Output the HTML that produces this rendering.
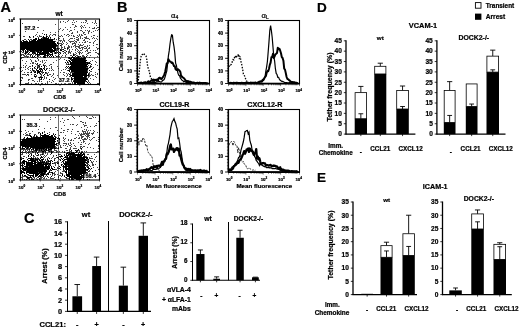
<!DOCTYPE html>
<html lang="en"><head><meta charset="utf-8"><title>Figure</title>
<style>
html,body{margin:0;padding:0;background:#fff;}
body{width:520px;height:328px;overflow:hidden;font-family:"Liberation Sans", Arial, Helvetica, sans-serif;}
svg{display:block;filter:blur(0.3px);}
text{stroke:#000;stroke-width:0.22px;}
</style></head><body>
<svg width="520" height="328" viewBox="0 0 520 328" font-family='"Liberation Sans", Arial, Helvetica, sans-serif' fill="#000">
<defs><filter id="sb" x="-5%" y="-5%" width="110%" height="110%"><feGaussianBlur stdDeviation="0.45"/></filter></defs>
<path d="M22 52.5h1M43 37.5h1M40 47.5h1M33 46.5h1M40 42.5h1M26 53.5h1M41 39.5h1M24 46.5h1M55 35.5h1M30 39.5h1M50 49.5h1M29 50.5h1M38 46.5h1M49 35.5h1M43 46.5h1M59 43.5h1M37 51.5h1M46 52.5h1M27 56.5h1M40 49.5h1M57 49.5h1M44 41.5h1M40 46.5h1M34 50.5h1M23 40.5h1M48 44.5h1M30 42.5h1M43 43.5h1M27 47.5h1M61 43.5h1M25 46.5h1M40 41.5h1M70 52.5h1M41 42.5h1M28 50.5h1M46 55.5h1M50 34.5h1M49 41.5h1M41 51.5h1M61 47.5h1M39 42.5h1M33 48.5h1M47 40.5h1M44 49.5h1M25 31.5h1M58 37.5h1M36 54.5h1M55 41.5h1M57 56.5h1M53 50.5h1M45 51.5h1M28 43.5h1M50 48.5h1M61 48.5h1M48 38.5h1M58 48.5h1M29 44.5h1M51 51.5h1M50 51.5h1M30 46.5h1M40 48.5h1M44 43.5h1M36 45.5h1M38 48.5h1M37 47.5h1M40 51.5h1M46 46.5h1M45 41.5h1M38 37.5h1M42 49.5h1M33 44.5h1M58 38.5h1M38 43.5h1M42 33.5h1M30 43.5h1M35 41.5h1M41 54.5h1M39 47.5h1M31 44.5h1M39 49.5h1M45 44.5h1M53 44.5h1M35 57.5h1M37 36.5h1M23 57.5h1M51 41.5h1M45 62.5h1M31 45.5h1M31 50.5h1M44 39.5h1M34 40.5h1M61 35.5h1M26 51.5h1M51 40.5h1M31 47.5h1M51 47.5h1M27 42.5h1M47 46.5h1M33 45.5h1M29 43.5h1M37 46.5h1M44 46.5h1M43 40.5h1M58 39.5h1M48 41.5h1M34 52.5h1M34 47.5h1M46 50.5h1M23 46.5h1M25 51.5h1M35 47.5h1M58 44.5h1M43 45.5h1M45 54.5h1M60 40.5h1M27 50.5h1M42 54.5h1M51 44.5h1M55 32.5h1M30 48.5h1M30 37.5h1M22 44.5h1M40 45.5h1M55 34.5h1M55 46.5h1M43 42.5h1M24 42.5h1M48 48.5h1M41 52.5h1M49 47.5h1M39 35.5h1M45 53.5h1M61 46.5h1M52 43.5h1M31 46.5h1M29 37.5h1M36 46.5h1M36 34.5h1M40 40.5h1M32 52.5h1M47 51.5h1M39 44.5h1M43 41.5h1M39 50.5h1M46 45.5h1M46 35.5h1M52 52.5h1M42 42.5h1M37 42.5h1M41 49.5h1M35 48.5h1M68 47.5h1M40 36.5h1M53 34.5h1M54 45.5h1M24 44.5h1M27 45.5h1M35 44.5h1M59 40.5h1M42 38.5h1M41 36.5h1M44 51.5h1M36 50.5h1M40 39.5h1M33 53.5h1M22 46.5h1M21 51.5h1M45 37.5h1M36 42.5h1M26 55.5h1M63 49.5h1M60 41.5h1M29 49.5h1M44 48.5h1M36 43.5h1M34 43.5h1M50 38.5h1M49 45.5h1M36 49.5h1M64 48.5h1M56 49.5h1M35 43.5h1M43 51.5h1M53 41.5h1M27 48.5h1M30 49.5h1M38 47.5h1M46 53.5h1M56 46.5h1M35 42.5h1M28 47.5h1M52 39.5h1M45 46.5h1M37 44.5h1M57 50.5h1M42 46.5h1M43 56.5h1M38 44.5h1M62 41.5h1M37 45.5h1M22 48.5h1M41 45.5h1M35 35.5h1M56 44.5h1M28 42.5h1M29 41.5h1M31 51.5h1M31 42.5h1M52 47.5h1M23 49.5h1M52 50.5h1M55 43.5h1M52 40.5h1M51 43.5h1M41 44.5h1M47 42.5h1M43 36.5h1M32 49.5h1M62 49.5h1M39 46.5h1M26 43.5h1M34 46.5h1M39 40.5h1M52 44.5h1M53 48.5h1M64 46.5h1M25 42.5h1M29 54.5h1M35 40.5h1M36 51.5h1M46 43.5h1M25 39.5h1M62 44.5h1M52 49.5h1M31 39.5h1M60 53.5h1M61 40.5h1M52 46.5h1M34 42.5h1M62 42.5h1M51 45.5h1M37 43.5h1M42 37.5h1M42 48.5h1M31 48.5h1M34 48.5h1M28 51.5h1M48 43.5h1M48 47.5h1M50 32.5h1M54 43.5h1M46 48.5h1M28 46.5h1M48 50.5h1M45 43.5h1M26 49.5h1M56 48.5h1M32 55.5h1M44 44.5h1M39 36.5h1M35 51.5h1M27 44.5h1M35 53.5h1M56 39.5h1M24 48.5h1M43 48.5h1M54 39.5h1M43 38.5h1M46 39.5h1M59 38.5h1M47 44.5h1M24 47.5h1M42 45.5h1M29 42.5h1M47 45.5h1M34 44.5h1M65 50.5h1M57 47.5h1M45 39.5h1M23 43.5h1M26 40.5h1M61 45.5h1M32 57.5h1M53 39.5h1M33 49.5h1M37 48.5h1M32 44.5h1M35 45.5h1M57 46.5h1M35 38.5h1M24 39.5h1M31 40.5h1M23 41.5h1M41 50.5h1M49 51.5h1M51 39.5h1M42 47.5h1M42 44.5h1M49 36.5h1M23 36.5h1M50 45.5h1M65 48.5h1M22 43.5h1M42 50.5h1M45 40.5h1M33 50.5h1M33 37.5h1M47 36.5h1M28 44.5h1M36 48.5h1M54 52.5h1M30 45.5h1M54 53.5h1M21 42.5h1M37 49.5h1M50 39.5h1M24 36.5h1M33 41.5h1M67 47.5h1M58 43.5h1M49 43.5h1M22 40.5h1M68 73.5h1M87 78.5h1M71 47.5h1M86 67.5h1M75 73.5h1M82 75.5h1M77 63.5h1M83 78.5h1M78 81.5h1M86 71.5h1M82 68.5h1M83 67.5h1M89 72.5h1M73 81.5h1M78 66.5h1M68 62.5h1M81 63.5h1M77 79.5h1M78 75.5h1M80 74.5h1M65 69.5h1M81 61.5h1M71 65.5h1M87 71.5h1M89 74.5h1M78 67.5h1M67 67.5h1M79 83.5h1M79 66.5h1M83 72.5h1M76 67.5h1M70 62.5h1M77 56.5h1M72 65.5h1M90 63.5h1M73 78.5h1M74 60.5h1M70 76.5h1M75 69.5h1M77 75.5h1M75 78.5h1M76 55.5h1M81 62.5h1M69 83.5h1M83 75.5h1M79 67.5h1M78 71.5h1M82 74.5h1M77 68.5h1M77 82.5h1M72 78.5h1M80 80.5h1M72 71.5h1M90 67.5h1M77 67.5h1M83 55.5h1M77 74.5h1M79 78.5h1M78 70.5h1M73 66.5h1M73 72.5h1M86 73.5h1M75 63.5h1M75 74.5h1M83 77.5h1M91 71.5h1M72 68.5h1M82 61.5h1M79 65.5h1M76 77.5h1M70 64.5h1M84 75.5h1M79 75.5h1M71 80.5h1M89 73.5h1M84 74.5h1M86 79.5h1M68 60.5h1M76 71.5h1M75 54.5h1M82 52.5h1M87 63.5h1M65 56.5h1M85 68.5h1M78 69.5h1M70 68.5h1M71 72.5h1M73 74.5h1M80 66.5h1M68 78.5h1M93 67.5h1M83 68.5h1M64 59.5h1M72 64.5h1M76 75.5h1M93 75.5h1M87 69.5h1M78 65.5h1M80 78.5h1M74 74.5h1M70 55.5h1M85 66.5h1M69 74.5h1M67 79.5h1M82 64.5h1M60 72.5h1M90 78.5h1M75 72.5h1M90 61.5h1M68 64.5h1M71 59.5h1M93 79.5h1M77 59.5h1M80 70.5h1M85 59.5h1M87 41.5h1M79 81.5h1M76 81.5h1M78 57.5h1M80 64.5h1M87 72.5h1M72 66.5h1M90 65.5h1M80 68.5h1M72 63.5h1M73 70.5h1M77 55.5h1M80 83.5h1M68 70.5h1M73 73.5h1M81 74.5h1M84 73.5h1M69 82.5h1M76 60.5h1M67 70.5h1M74 72.5h1M76 82.5h1M74 64.5h1M70 66.5h1M66 68.5h1M78 68.5h1M76 72.5h1M88 68.5h1M67 74.5h1M81 71.5h1M87 75.5h1M65 83.5h1M82 63.5h1M81 66.5h1M88 76.5h1M78 72.5h1M73 53.5h1M86 63.5h1M77 80.5h1M78 77.5h1M81 77.5h1M85 58.5h1M80 72.5h1M71 66.5h1M71 57.5h1M78 78.5h1M79 82.5h1M70 72.5h1M76 61.5h1M86 78.5h1M66 60.5h1M77 71.5h1M68 63.5h1M84 68.5h1M88 73.5h1M81 64.5h1M63 69.5h1M74 69.5h1M76 80.5h1M79 68.5h1M80 79.5h1M88 77.5h1M83 79.5h1M76 76.5h1M79 69.5h1M82 70.5h1M71 55.5h1M77 78.5h1M74 71.5h1M84 63.5h1M84 70.5h1M90 71.5h1M85 81.5h1M79 70.5h1M83 66.5h1M72 69.5h1M68 68.5h1M81 50.5h1M82 56.5h1M91 74.5h1M70 69.5h1M85 71.5h1M75 81.5h1M80 61.5h1M74 80.5h1M95 74.5h1M85 64.5h1M90 83.5h1M83 57.5h1M83 60.5h1M79 51.5h1M69 69.5h1M82 82.5h1M75 71.5h1M80 60.5h1M77 73.5h1M71 60.5h1M72 72.5h1M75 67.5h1M95 72.5h1M88 75.5h1M82 78.5h1M84 83.5h1M79 74.5h1M85 60.5h1M73 80.5h1M89 82.5h1M89 57.5h1M74 67.5h1M86 66.5h1M77 81.5h1M77 76.5h1M79 58.5h1M69 68.5h1M90 75.5h1M76 68.5h1M66 63.5h1M63 72.5h1M60 58.5h1M74 75.5h1M87 67.5h1M67 78.5h1M76 66.5h1M66 64.5h1M86 74.5h1M81 81.5h1M80 52.5h1M89 76.5h1M85 57.5h1M74 62.5h1M69 76.5h1M71 63.5h1M67 64.5h1M77 62.5h1M79 62.5h1M80 50.5h1M92 60.5h1M74 59.5h1M80 81.5h1M84 77.5h1M73 68.5h1M75 77.5h1M80 73.5h1M79 63.5h1M86 54.5h1M80 67.5h1M78 64.5h1M77 61.5h1M74 66.5h1M69 71.5h1M78 60.5h1M86 70.5h1M74 55.5h1M76 70.5h1M77 77.5h1M67 61.5h1M88 65.5h1M82 48.5h1M73 60.5h1M87 82.5h1M70 73.5h1M89 75.5h1M65 55.5h1M83 62.5h1M71 81.5h1M77 72.5h1M65 67.5h1M82 67.5h1M77 65.5h1M76 62.5h1M88 53.5h1M79 71.5h1M85 75.5h1M71 75.5h1M84 57.5h1M79 79.5h1M92 68.5h1M70 75.5h1M66 66.5h1M70 83.5h1M84 64.5h1M77 64.5h1M95 76.5h1M66 73.5h1M89 52.5h1M82 59.5h1M82 65.5h1M91 66.5h1M74 70.5h1M70 63.5h1M65 53.5h1M76 65.5h1M77 58.5h1M81 76.5h1M85 61.5h1M70 74.5h1M72 82.5h1M95 64.5h1M71 51.5h1M74 61.5h1M78 52.5h1M82 71.5h1M67 75.5h1M84 46.5h1M86 77.5h1M80 82.5h1M82 55.5h1M71 68.5h1M92 75.5h1M83 71.5h1M37 56.5h1M23 55.5h1M24 56.5h1M44 50.5h1M35 55.5h1M39 52.5h1M35 52.5h1M30 55.5h1M43 53.5h1M56 51.5h1M39 55.5h1M50 57.5h1M29 52.5h1M44 52.5h1M35 49.5h1M25 56.5h1M27 57.5h1M40 53.5h1M45 56.5h1M27 54.5h1M38 56.5h1M56 50.5h1M22 54.5h1M32 50.5h1M30 50.5h1M55 55.5h1M49 53.5h1M34 53.5h1M30 54.5h1M23 52.5h1M25 54.5h1M47 53.5h1M22 50.5h1M45 55.5h1M43 57.5h1M24 49.5h1M48 54.5h1M52 55.5h1M24 53.5h1M56 52.5h1M50 55.5h1M42 53.5h1M28 54.5h1M54 50.5h1M28 56.5h1M40 50.5h1M49 50.5h1M24 55.5h1M35 54.5h1M21 55.5h1M39 51.5h1M30 56.5h1M23 54.5h1M38 55.5h1M21 54.5h1M48 55.5h1M53 57.5h1M50 54.5h1M56 53.5h1M50 74.5h1M37 81.5h1M43 79.5h1M47 83.5h1M43 64.5h1M33 80.5h1M28 67.5h1M25 69.5h1M31 71.5h1M32 70.5h1M42 72.5h1M28 80.5h1M26 56.5h1M40 61.5h1M53 62.5h1M31 72.5h1M37 71.5h1M38 72.5h1M47 82.5h1M45 70.5h1M35 61.5h1M46 73.5h1M39 81.5h1M45 83.5h1M53 70.5h1M21 71.5h1M27 72.5h1M28 74.5h1M28 69.5h1M39 67.5h1M39 80.5h1M52 80.5h1M49 70.5h1M41 66.5h1M37 66.5h1M44 63.5h1M42 62.5h1M35 68.5h1M44 65.5h1M34 72.5h1M38 67.5h1M37 64.5h1M34 68.5h1M33 54.5h1M39 72.5h1M37 68.5h1M28 79.5h1M51 67.5h1M52 69.5h1M51 64.5h1M37 72.5h1M31 78.5h1M30 68.5h1M24 74.5h1M36 64.5h1M25 66.5h1M39 68.5h1M40 64.5h1M34 75.5h1M38 77.5h1M35 66.5h1M51 70.5h1M31 74.5h1M33 62.5h1M36 76.5h1M40 71.5h1M42 69.5h1M35 63.5h1M51 68.5h1M23 74.5h1M40 76.5h1M38 59.5h1M27 68.5h1M39 64.5h1M47 81.5h1M41 74.5h1M37 63.5h1M34 71.5h1M35 60.5h1M43 68.5h1M42 61.5h1M33 71.5h1M46 66.5h1M24 72.5h1M40 74.5h1M39 65.5h1M28 75.5h1M34 70.5h1M31 57.5h1M41 76.5h1M30 70.5h1M34 67.5h1M40 69.5h1M40 56.5h1M37 65.5h1M30 66.5h1M46 68.5h1M51 66.5h1M23 65.5h1M42 71.5h1M36 75.5h1M28 72.5h1M51 76.5h1M42 73.5h1M54 79.5h1M32 80.5h1M26 65.5h1M38 66.5h1M25 67.5h1M35 74.5h1M47 73.5h1M45 65.5h1M44 68.5h1M41 71.5h1M37 73.5h1M32 65.5h1M29 79.5h1M47 75.5h1M25 74.5h1M31 60.5h1M41 75.5h1M46 60.5h1M26 61.5h1M46 78.5h1M33 70.5h1M40 79.5h1M32 62.5h1M41 72.5h1M39 78.5h1M29 66.5h1M44 76.5h1M39 73.5h1M36 70.5h1M32 66.5h1M30 72.5h1M49 65.5h1M36 61.5h1M46 72.5h1M36 69.5h1M35 77.5h1M48 72.5h1M49 81.5h1M52 75.5h1M38 60.5h1M46 77.5h1M39 79.5h1M34 74.5h1M53 73.5h1M30 59.5h1M23 67.5h1M21 77.5h1M31 61.5h1M22 70.5h1M48 75.5h1M26 75.5h1M30 63.5h1M47 68.5h1M53 77.5h1M49 74.5h1M44 78.5h1M47 74.5h1M32 78.5h1M57 66.5h1M39 69.5h1M57 75.5h1M45 73.5h1M50 64.5h1M33 63.5h1M41 81.5h1M44 60.5h1M34 81.5h1M22 57.5h1M53 81.5h1M32 63.5h1M56 60.5h1M55 78.5h1M22 78.5h1M42 60.5h1M49 68.5h1M25 63.5h1M44 77.5h1M53 74.5h1M51 82.5h1M21 58.5h1M22 74.5h1M21 67.5h1M22 77.5h1M21 80.5h1M22 60.5h1M21 57.5h1M38 83.5h1M42 83.5h1M41 83.5h1M28 82.5h1M55 83.5h1M56 83.5h1M35 83.5h1M26 83.5h1M36 83.5h1M27 83.5h1M28 83.5h1M25 83.5h1M31 83.5h1M68 51.5h1M84 56.5h1M84 25.5h1M67 43.5h1M72 22.5h1M75 52.5h1M70 27.5h1M58 35.5h1M59 29.5h1M70 30.5h1M96 52.5h1M82 31.5h1M96 28.5h1M82 38.5h1M75 47.5h1M89 45.5h1M85 22.5h1M73 20.5h1M80 44.5h1M79 47.5h1M60 43.5h1M71 41.5h1M88 48.5h1M76 53.5h1M91 32.5h1M69 47.5h1M87 46.5h1M60 36.5h1M90 52.5h1M81 57.5h1M81 35.5h1M64 47.5h1M95 21.5h1M75 26.5h1M98 53.5h1M63 21.5h1M93 42.5h1M63 38.5h1M86 36.5h1M83 56.5h1M98 54.5h1M96 44.5h1M64 41.5h1M64 40.5h1M91 36.5h1M76 21.5h1M95 52.5h1M77 37.5h1M60 28.5h1M96 25.5h1M72 33.5h1M95 50.5h1M73 35.5h1M87 55.5h1M93 35.5h1M67 29.5h1M92 22.5h1M97 53.5h1M74 29.5h1M63 39.5h1M82 26.5h1M87 30.5h1M70 53.5h1M58 31.5h1M83 27.5h1M65 27.5h1M74 54.5h1M89 42.5h1M80 26.5h1M67 34.5h1M85 27.5h1M76 48.5h1M85 20.5h1M69 39.5h1M86 20.5h1M63 29.5h1M83 33.5h1M60 45.5h1M87 49.5h1M93 43.5h1M82 42.5h1M78 44.5h1M96 38.5h1M89 39.5h1M96 47.5h1M85 34.5h1M95 22.5h1M98 48.5h1M73 43.5h1M97 39.5h1M95 20.5h1M69 49.5h1M66 42.5h1M79 54.5h1M93 28.5h1M61 49.5h1M88 31.5h1M76 41.5h1M92 28.5h1M59 36.5h1M85 30.5h1M70 42.5h1M85 37.5h1M61 44.5h1M97 48.5h1M74 22.5h1M77 40.5h1M97 27.5h1M89 27.5h1M79 45.5h1M69 31.5h1M84 37.5h1M94 28.5h1M66 35.5h1M85 46.5h1M74 27.5h1M93 31.5h1M62 51.5h1M60 49.5h1M89 31.5h1M62 47.5h1M93 45.5h1M97 44.5h1M87 50.5h1M96 23.5h1M97 56.5h1M97 36.5h1M60 22.5h1M60 21.5h1M87 23.5h1M94 38.5h1M65 22.5h1M94 27.5h1M63 43.5h1M68 20.5h1M62 36.5h1M90 55.5h1M95 30.5h1M67 21.5h1M97 30.5h1M75 43.5h1M89 30.5h1M86 21.5h1M71 33.5h1M95 40.5h1M94 23.5h1M72 24.5h1M71 46.5h1M64 34.5h1M76 26.5h1M81 27.5h1M75 25.5h1M93 37.5h1M72 32.5h1M80 45.5h1M82 45.5h1M75 46.5h1M75 44.5h1M84 40.5h1M68 36.5h1M81 47.5h1M70 41.5h1M67 49.5h1M80 37.5h1M76 39.5h1M94 35.5h1M68 46.5h1M81 34.5h1M81 22.5h1M77 35.5h1M69 41.5h1M85 38.5h1M85 51.5h1M83 44.5h1M82 49.5h1M88 52.5h1M85 48.5h1M76 37.5h1M87 45.5h1M74 40.5h1M83 47.5h1M73 36.5h1M79 46.5h1M86 37.5h1M78 47.5h1M87 51.5h1M77 51.5h1M92 38.5h1M79 52.5h1M98 27.5h1M85 42.5h1M80 30.5h1M72 41.5h1M77 31.5h1M94 41.5h1M71 35.5h1M69 51.5h1M89 48.5h1M77 49.5h1M74 45.5h1M78 40.5h1M78 39.5h1M88 32.5h1M79 48.5h1M74 38.5h1M72 44.5h1M68 34.5h1M79 60.5h1M69 52.5h1M85 41.5h1M78 56.5h1M75 45.5h1M90 50.5h1M68 40.5h1M86 38.5h1M81 53.5h1M82 47.5h1M80 48.5h1M72 49.5h1M84 42.5h1M88 38.5h1M66 44.5h1M79 42.5h1M78 50.5h1M83 40.5h1M79 56.5h1M77 39.5h1M88 33.5h1M73 46.5h1M77 46.5h1M74 36.5h1M76 46.5h1M90 42.5h1M74 43.5h1M97 49.5h1M69 35.5h1M63 40.5h1M75 50.5h1M89 47.5h1M83 32.5h1M72 43.5h1M78 38.5h1M98 29.5h1M81 25.5h1M84 48.5h1M81 30.5h1M80 38.5h1M74 42.5h1M81 45.5h1M70 38.5h1M71 38.5h1M68 45.5h1M79 34.5h1M86 50.5h1M69 46.5h1M73 41.5h1M78 46.5h1M79 35.5h1M83 22.5h1M78 36.5h1M87 53.5h1M75 49.5h1M84 39.5h1M82 35.5h1M84 32.5h1M72 38.5h1M86 47.5h1M76 42.5h1M73 24.5h1M77 32.5h1M75 41.5h1M84 34.5h1M80 36.5h1M71 30.5h1M81 28.5h1M93 50.5h1M86 48.5h1M87 38.5h1M62 30.5h1M61 56.5h1M65 52.5h1M63 53.5h1M64 52.5h1M60 52.5h1M58 49.5h1M69 50.5h1M59 56.5h1M58 56.5h1M66 54.5h1M68 48.5h1M59 54.5h1M68 53.5h1M64 50.5h1M59 48.5h1M62 55.5h1M68 52.5h1M84 82.5h1M87 70.5h1M66 76.5h1M97 73.5h1M82 66.5h1M95 61.5h1M94 58.5h1M64 83.5h1M69 60.5h1M80 65.5h1M64 72.5h1M72 83.5h1M85 63.5h1M96 62.5h1M59 59.5h1M61 81.5h1M79 80.5h1M68 58.5h1M88 62.5h1M83 63.5h1M97 83.5h1M89 67.5h1M80 76.5h1M69 64.5h1M88 80.5h1M61 83.5h1M98 69.5h1M97 74.5h1M77 57.5h1M79 57.5h1M59 79.5h1M68 83.5h1M63 79.5h1M98 83.5h1M96 77.5h1M69 58.5h1M68 57.5h1M78 83.5h1M97 65.5h1M73 63.5h1M88 83.5h1M64 75.5h1M61 70.5h1M67 80.5h1M88 81.5h1M63 74.5h1M58 68.5h1M25 27.5h1M38 27.5h1M22 23.5h1M37 27.5h1M38 20.5h1M54 34.5h1M43 30.5h1M37 32.5h1M55 24.5h1M52 35.5h1" stroke="#000" stroke-width="1" fill="none" opacity="0.72" filter="url(#sb)"/>
<path d="M41 41.5h1M47 43.5h1M47 42.5h1M30 42.5h1M31 45.5h1M45 46.5h1M45 44.5h1M47 45.5h1M36 45.5h1M30 44.5h1M32 47.5h1M31 47.5h1M35 47.5h1M39 45.5h1M38 50.5h1M50 50.5h1M46 44.5h1M50 48.5h1M28 43.5h1M29 46.5h1M43 45.5h1M22 44.5h1M25 45.5h1M38 41.5h1M37 44.5h1M50 39.5h1M41 51.5h1M42 49.5h1M38 48.5h1M27 46.5h1M23 47.5h1M27 47.5h1M42 48.5h1M35 43.5h1M22 46.5h1M48 44.5h1M33 43.5h1M48 46.5h1M39 48.5h1M46 41.5h1M41 49.5h1M46 49.5h1M25 44.5h1M36 44.5h1M38 45.5h1M47 48.5h1M32 44.5h1M41 42.5h1M31 41.5h1M30 45.5h1M29 47.5h1M43 46.5h1M34 47.5h1M52 46.5h1M41 47.5h1M41 43.5h1M42 44.5h1M28 45.5h1M34 48.5h1M27 48.5h1M36 46.5h1M26 44.5h1M51 43.5h1M27 45.5h1M43 48.5h1M31 46.5h1M49 45.5h1M40 43.5h1M26 47.5h1M47 46.5h1M48 45.5h1M39 49.5h1M28 48.5h1M28 47.5h1M43 43.5h1M31 43.5h1M35 46.5h1M26 46.5h1M49 47.5h1M35 38.5h1M40 46.5h1M30 41.5h1M42 45.5h1M26 43.5h1M34 45.5h1M26 42.5h1M53 46.5h1M37 41.5h1M45 45.5h1M35 44.5h1M42 43.5h1M43 53.5h1M33 44.5h1M51 44.5h1M27 44.5h1M50 45.5h1M21 43.5h1M46 46.5h1M47 44.5h1M27 42.5h1M25 47.5h1M30 49.5h1M34 46.5h1M25 46.5h1M51 46.5h1M34 44.5h1M51 48.5h1M37 48.5h1M49 44.5h1M36 50.5h1M42 46.5h1M38 47.5h1M35 45.5h1M46 47.5h1M32 45.5h1M47 47.5h1M24 47.5h1M40 45.5h1M52 45.5h1M29 44.5h1M40 42.5h1M43 49.5h1M30 48.5h1M25 48.5h1M21 44.5h1M49 50.5h1M46 42.5h1M38 46.5h1M37 45.5h1M39 43.5h1M48 48.5h1M40 48.5h1M24 43.5h1M32 43.5h1M45 41.5h1M23 44.5h1M44 42.5h1M48 43.5h1M50 49.5h1M24 42.5h1M29 43.5h1M24 44.5h1M37 46.5h1M23 40.5h1M39 40.5h1M25 43.5h1M24 45.5h1M39 46.5h1M21 46.5h1M23 45.5h1M44 47.5h1M43 44.5h1M45 43.5h1M45 49.5h1M40 41.5h1M48 40.5h1M51 47.5h1M48 51.5h1M43 41.5h1M39 47.5h1M52 44.5h1M32 48.5h1M37 49.5h1M28 42.5h1M50 46.5h1M34 49.5h1M26 45.5h1M41 46.5h1M33 41.5h1M24 48.5h1M51 50.5h1M39 42.5h1M36 41.5h1M48 50.5h1M44 44.5h1M44 43.5h1M37 43.5h1M40 44.5h1M43 39.5h1M23 43.5h1M41 40.5h1M51 45.5h1M45 47.5h1M39 44.5h1M33 46.5h1M34 41.5h1M38 44.5h1M40 40.5h1M49 41.5h1M28 44.5h1M41 44.5h1M45 39.5h1M27 43.5h1M52 41.5h1M23 46.5h1M36 43.5h1M44 50.5h1M31 48.5h1M22 47.5h1M28 39.5h1M30 46.5h1M22 48.5h1M50 40.5h1M42 42.5h1M36 49.5h1M40 39.5h1M32 46.5h1M25 51.5h1M24 46.5h1M47 41.5h1M44 46.5h1M23 48.5h1M47 50.5h1M44 45.5h1M50 47.5h1M33 42.5h1M23 49.5h1M52 42.5h1M36 48.5h1M44 39.5h1M40 47.5h1M22 45.5h1M50 42.5h1M35 49.5h1M37 47.5h1M46 51.5h1M42 41.5h1M33 45.5h1M47 40.5h1M43 42.5h1M23 42.5h1M49 43.5h1M43 47.5h1M39 41.5h1M31 44.5h1M53 47.5h1M36 47.5h1M33 47.5h1M37 51.5h1M35 41.5h1M32 49.5h1M32 42.5h1M23 41.5h1M41 45.5h1M32 40.5h1M29 45.5h1M22 49.5h1M49 42.5h1M49 48.5h1M46 43.5h1M28 46.5h1M29 42.5h1M37 40.5h1M21 42.5h1M38 49.5h1M46 40.5h1M33 49.5h1M33 50.5h1M35 42.5h1M45 51.5h1M48 42.5h1M31 49.5h1M25 41.5h1M29 48.5h1M34 42.5h1M30 43.5h1M40 50.5h1M26 41.5h1M42 40.5h1M46 45.5h1M49 51.5h1M50 44.5h1M38 38.5h1M40 51.5h1M30 47.5h1M44 49.5h1M31 42.5h1M42 47.5h1M44 41.5h1M54 41.5h1M27 41.5h1M44 48.5h1M43 37.5h1M38 42.5h1M26 48.5h1M35 50.5h1M21 45.5h1M25 42.5h1M46 48.5h1M50 43.5h1M21 47.5h1M47 49.5h1M48 39.5h1M21 49.5h1M49 40.5h1M49 46.5h1M48 38.5h1M38 43.5h1M49 49.5h1M34 43.5h1M36 39.5h1M26 49.5h1M54 46.5h1M52 43.5h1M48 49.5h1M48 47.5h1M45 42.5h1M33 48.5h1M34 40.5h1M50 41.5h1M54 49.5h1M51 42.5h1M53 41.5h1M35 40.5h1M52 47.5h1M45 40.5h1M23 50.5h1M37 42.5h1M51 41.5h1M41 48.5h1M52 49.5h1M42 50.5h1M39 39.5h1M33 40.5h1M55 50.5h1M31 51.5h1M43 38.5h1M24 41.5h1M36 42.5h1M51 49.5h1M55 44.5h1M40 49.5h1M37 54.5h1M47 39.5h1M41 39.5h1M37 50.5h1M21 48.5h1M35 48.5h1M48 41.5h1M29 41.5h1M54 43.5h1M22 42.5h1M45 50.5h1M29 49.5h1M35 39.5h1M32 41.5h1M45 48.5h1M43 40.5h1M29 40.5h1M54 42.5h1M51 39.5h1M22 43.5h1M27 49.5h1M34 39.5h1M46 39.5h1M50 52.5h1M21 41.5h1M53 45.5h1M45 52.5h1M24 49.5h1M53 48.5h1M53 44.5h1M28 49.5h1M51 40.5h1M44 40.5h1M39 50.5h1M51 51.5h1M52 50.5h1M38 40.5h1M47 38.5h1M48 37.5h1M47 55.5h1M44 52.5h1M57 43.5h1M39 52.5h1M44 38.5h1M38 39.5h1M33 36.5h1M43 51.5h1M50 51.5h1M56 45.5h1M53 50.5h1M42 53.5h1M41 38.5h1M53 42.5h1M36 38.5h1M29 36.5h1M54 38.5h1M54 44.5h1M49 39.5h1M50 55.5h1M50 37.5h1M44 37.5h1M49 56.5h1M47 53.5h1M54 45.5h1M44 34.5h1M52 53.5h1M55 45.5h1M52 39.5h1M54 48.5h1M45 38.5h1M52 40.5h1M33 39.5h1M43 36.5h1M41 50.5h1M57 45.5h1M49 54.5h1M55 49.5h1M46 34.5h1M60 45.5h1M40 52.5h1M46 36.5h1M55 43.5h1M50 54.5h1M46 38.5h1M55 48.5h1M33 52.5h1M54 50.5h1M32 50.5h1M44 53.5h1M42 39.5h1M57 42.5h1M54 47.5h1M46 37.5h1M43 50.5h1M46 50.5h1M43 54.5h1M42 54.5h1M32 51.5h1M55 46.5h1M53 43.5h1M36 51.5h1M63 49.5h1M57 52.5h1M59 52.5h1M37 53.5h1M63 51.5h1M37 58.5h1M38 51.5h1M31 50.5h1M34 50.5h1M44 56.5h1M37 55.5h1M44 51.5h1M43 52.5h1M46 53.5h1M33 51.5h1M30 51.5h1M51 52.5h1M34 52.5h1M25 52.5h1M53 51.5h1M55 53.5h1M33 57.5h1M28 53.5h1M58 55.5h1M32 53.5h1M52 54.5h1M57 48.5h1M40 54.5h1M51 54.5h1M40 53.5h1M53 56.5h1M45 53.5h1M37 56.5h1M55 47.5h1M47 52.5h1M34 51.5h1M29 50.5h1M34 53.5h1M38 52.5h1M44 57.5h1M37 52.5h1M47 54.5h1M30 50.5h1M42 52.5h1M35 53.5h1M52 51.5h1M58 51.5h1M44 55.5h1M27 50.5h1M25 53.5h1M61 50.5h1M27 52.5h1M46 52.5h1M34 56.5h1M41 53.5h1M32 52.5h1M39 53.5h1M45 54.5h1M29 52.5h1M54 51.5h1M36 54.5h1M48 53.5h1M38 54.5h1M41 54.5h1M43 56.5h1M32 56.5h1M47 51.5h1M55 52.5h1M48 52.5h1M44 54.5h1M67 48.5h1M56 56.5h1M66 51.5h1M51 56.5h1M26 52.5h1M31 54.5h1M27 51.5h1M58 53.5h1M45 55.5h1M60 49.5h1M52 55.5h1M60 50.5h1M47 56.5h1M23 51.5h1M25 50.5h1M48 55.5h1M60 53.5h1M30 55.5h1M45 57.5h1M81 70.5h1M82 69.5h1M77 75.5h1M80 71.5h1M75 66.5h1M79 81.5h1M78 58.5h1M80 82.5h1M78 77.5h1M77 65.5h1M72 66.5h1M76 65.5h1M79 82.5h1M79 65.5h1M81 80.5h1M79 77.5h1M81 81.5h1M78 83.5h1M82 79.5h1M86 66.5h1M80 67.5h1M79 80.5h1M80 72.5h1M83 79.5h1M83 66.5h1M76 76.5h1M80 68.5h1M76 69.5h1M77 68.5h1M81 76.5h1M77 63.5h1M79 79.5h1M74 62.5h1M85 63.5h1M73 65.5h1M81 71.5h1M79 68.5h1M80 77.5h1M74 60.5h1M76 62.5h1M77 62.5h1M78 66.5h1M79 66.5h1M78 72.5h1M81 78.5h1M82 76.5h1M77 66.5h1M82 75.5h1M79 67.5h1M76 60.5h1M80 69.5h1M83 65.5h1M77 58.5h1M74 75.5h1M82 68.5h1M76 73.5h1M79 72.5h1M74 82.5h1M81 65.5h1M81 68.5h1M81 59.5h1M84 73.5h1M75 65.5h1M82 60.5h1M86 73.5h1M71 67.5h1M77 76.5h1M75 79.5h1M80 65.5h1M79 70.5h1M76 63.5h1M80 76.5h1M82 83.5h1M82 72.5h1M80 66.5h1M77 81.5h1M78 70.5h1M70 67.5h1M75 68.5h1M79 71.5h1M80 81.5h1M71 63.5h1M73 64.5h1M73 59.5h1M76 67.5h1M82 77.5h1M75 59.5h1M71 66.5h1M83 78.5h1M81 75.5h1M78 73.5h1M73 75.5h1M75 74.5h1M71 69.5h1M83 81.5h1M76 70.5h1M84 77.5h1M75 75.5h1M82 59.5h1M73 81.5h1M82 80.5h1M77 71.5h1M79 74.5h1M75 80.5h1M80 74.5h1M80 61.5h1M75 73.5h1M77 80.5h1M76 61.5h1M76 71.5h1M84 60.5h1M82 70.5h1M73 73.5h1M80 75.5h1M83 73.5h1M81 83.5h1M77 74.5h1M77 78.5h1M90 66.5h1M83 60.5h1M73 62.5h1M72 65.5h1M80 60.5h1M84 72.5h1M78 71.5h1M79 63.5h1M77 70.5h1M78 78.5h1M85 68.5h1M84 75.5h1M84 65.5h1M75 76.5h1M86 78.5h1M81 79.5h1M77 60.5h1M80 83.5h1M76 77.5h1M79 75.5h1M81 72.5h1M75 77.5h1M83 69.5h1M74 67.5h1M71 79.5h1M72 69.5h1M75 67.5h1M80 80.5h1M85 73.5h1M83 70.5h1M75 83.5h1M82 62.5h1M85 64.5h1M82 73.5h1M77 69.5h1M82 74.5h1M78 80.5h1M83 74.5h1M75 78.5h1M79 73.5h1M71 62.5h1M75 71.5h1M78 69.5h1M84 63.5h1M83 59.5h1M79 62.5h1M77 79.5h1M80 64.5h1M78 76.5h1M77 59.5h1M74 72.5h1M73 61.5h1M82 66.5h1M80 62.5h1M79 59.5h1M78 65.5h1M77 72.5h1M76 79.5h1M84 83.5h1M78 81.5h1M81 69.5h1M85 65.5h1M86 62.5h1M83 83.5h1M83 75.5h1M78 59.5h1M73 69.5h1M76 66.5h1M78 75.5h1M71 68.5h1M80 63.5h1M72 62.5h1M77 77.5h1M74 66.5h1M76 64.5h1M77 73.5h1M78 64.5h1M72 67.5h1M81 74.5h1M81 77.5h1M78 68.5h1M87 79.5h1M80 79.5h1M81 62.5h1M88 75.5h1M74 81.5h1M84 76.5h1M81 63.5h1M78 67.5h1M79 78.5h1M80 73.5h1M72 64.5h1M80 59.5h1M80 70.5h1M75 62.5h1M77 82.5h1M83 80.5h1M78 63.5h1M78 74.5h1M84 79.5h1M83 72.5h1M85 78.5h1M81 73.5h1M73 68.5h1M74 79.5h1M80 78.5h1M79 76.5h1M75 70.5h1M72 71.5h1M82 78.5h1M79 83.5h1M74 77.5h1M78 60.5h1M74 65.5h1M76 74.5h1M81 66.5h1M73 58.5h1M72 61.5h1M84 74.5h1M81 64.5h1M82 81.5h1M73 66.5h1M82 65.5h1M78 79.5h1M75 69.5h1M74 83.5h1M75 81.5h1M74 71.5h1M73 67.5h1M82 64.5h1M85 71.5h1M83 77.5h1M77 57.5h1M65 62.5h1M72 75.5h1M71 57.5h1M84 82.5h1M82 71.5h1M84 71.5h1M74 70.5h1M87 69.5h1M85 76.5h1M76 72.5h1M82 61.5h1M86 72.5h1M72 79.5h1M81 67.5h1M73 71.5h1M72 70.5h1M86 74.5h1M87 82.5h1M70 66.5h1M76 75.5h1M84 61.5h1M74 63.5h1M74 69.5h1M77 67.5h1M75 72.5h1M83 71.5h1M86 60.5h1M78 82.5h1M82 63.5h1M73 70.5h1M76 78.5h1M85 69.5h1M84 78.5h1M73 57.5h1M86 69.5h1M75 82.5h1M83 63.5h1M84 64.5h1M84 58.5h1M77 64.5h1M86 68.5h1M87 75.5h1M75 63.5h1M74 78.5h1M69 60.5h1M87 66.5h1M71 70.5h1M79 69.5h1M83 82.5h1M82 82.5h1M86 79.5h1M82 67.5h1M83 67.5h1M85 60.5h1M74 61.5h1M84 68.5h1M86 75.5h1M79 61.5h1M78 62.5h1M82 58.5h1M75 64.5h1M71 60.5h1M75 60.5h1M74 80.5h1M75 61.5h1M81 82.5h1M85 66.5h1M91 69.5h1M85 79.5h1M72 59.5h1M74 57.5h1M72 68.5h1M85 74.5h1M68 66.5h1M86 56.5h1M85 67.5h1M79 60.5h1M84 67.5h1M71 64.5h1M71 78.5h1M76 58.5h1M76 68.5h1M67 62.5h1M72 73.5h1M86 81.5h1M84 69.5h1M69 67.5h1M85 75.5h1M77 83.5h1M83 68.5h1M88 74.5h1M83 64.5h1M84 70.5h1M76 59.5h1M74 73.5h1M76 80.5h1M73 60.5h1M83 62.5h1M86 76.5h1M84 81.5h1M66 60.5h1M74 64.5h1M68 64.5h1M74 59.5h1M86 71.5h1M85 58.5h1M81 60.5h1M79 64.5h1M85 77.5h1M89 63.5h1M87 68.5h1M75 58.5h1M86 70.5h1M87 72.5h1M70 62.5h1M76 81.5h1M81 61.5h1M72 76.5h1M70 61.5h1M84 57.5h1M85 72.5h1M86 64.5h1M70 59.5h1M74 76.5h1M76 82.5h1M86 65.5h1M71 71.5h1M72 63.5h1M85 62.5h1M83 61.5h1M79 58.5h1M87 62.5h1M81 58.5h1M89 67.5h1M84 80.5h1M71 77.5h1M80 58.5h1M70 75.5h1M73 76.5h1M74 74.5h1M77 61.5h1M69 74.5h1M73 74.5h1M84 59.5h1M74 68.5h1M74 58.5h1M88 63.5h1M78 61.5h1M70 64.5h1M91 64.5h1M73 63.5h1M85 80.5h1M76 57.5h1M69 58.5h1M70 69.5h1M71 58.5h1M84 62.5h1M85 70.5h1M69 61.5h1M73 54.5h1M71 75.5h1M72 60.5h1M71 65.5h1M85 61.5h1M89 70.5h1M72 74.5h1M70 68.5h1M69 70.5h1M78 56.5h1M89 62.5h1M87 64.5h1M69 57.5h1M70 63.5h1M73 55.5h1M84 66.5h1M80 56.5h1M75 56.5h1M66 66.5h1M68 70.5h1M78 57.5h1M79 53.5h1M67 67.5h1M72 56.5h1M70 58.5h1M87 63.5h1M83 58.5h1M72 57.5h1M69 71.5h1M43 72.5h1M39 71.5h1M37 67.5h1M41 78.5h1M41 68.5h1M38 65.5h1M37 72.5h1M40 71.5h1M38 70.5h1M43 65.5h1M35 72.5h1M40 73.5h1M39 54.5h1M35 71.5h1M37 73.5h1M34 67.5h1M37 63.5h1M37 71.5h1M49 79.5h1M34 72.5h1M41 79.5h1M40 70.5h1M37 68.5h1M35 76.5h1M44 66.5h1M43 68.5h1M32 69.5h1M38 72.5h1M32 65.5h1M39 66.5h1M41 77.5h1M46 69.5h1M47 75.5h1M27 74.5h1M38 71.5h1M44 74.5h1M36 69.5h1M42 70.5h1M32 68.5h1M42 77.5h1M39 72.5h1M34 76.5h1M41 66.5h1M39 69.5h1M35 74.5h1M37 70.5h1M44 69.5h1M45 70.5h1M33 70.5h1M41 69.5h1M40 77.5h1M45 72.5h1M39 77.5h1M43 75.5h1M40 68.5h1M31 72.5h1M44 67.5h1" stroke="#000" stroke-width="1" fill="none" opacity="1" filter="url(#sb)"/>
<rect x="20.50" y="19.00" width="79.00" height="65.50" fill="none" stroke="#000" stroke-width="1.1"/>
<line x1="58.5" y1="19" x2="58.5" y2="84.5" stroke="#000" stroke-width="0.7" opacity="0.8"/>
<line x1="20.5" y1="57.5" x2="99.5" y2="57.5" stroke="#000" stroke-width="0.7" opacity="0.8"/>
<text x="59" y="16.4" font-size="6.5" text-anchor="middle" font-weight="bold">wt</text>
<rect x="23.70" y="25.30" width="12.00" height="5.20" fill="#fff"/>
<text x="24.5" y="29.7" font-size="5.5" text-anchor="start" font-weight="bold" stroke-width="0.4">57.2</text>
<rect x="58.00" y="78.00" width="12.00" height="5.20" fill="#fff"/>
<text x="58.8" y="82.4" font-size="5.5" text-anchor="start" font-weight="bold" stroke-width="0.4">37.2</text>
<text x="21.8" y="92.8" font-size="4.4" text-anchor="middle" font-weight="bold" stroke-width="0.35">10<tspan dy="-1.6" font-size="3.08">0</tspan></text>
<text x="40.8" y="92.8" font-size="4.4" text-anchor="middle" font-weight="bold" stroke-width="0.35">10<tspan dy="-1.6" font-size="3.08">1</tspan></text>
<text x="59.8" y="92.8" font-size="4.4" text-anchor="middle" font-weight="bold" stroke-width="0.35">10<tspan dy="-1.6" font-size="3.08">2</tspan></text>
<text x="78.8" y="92.8" font-size="4.4" text-anchor="middle" font-weight="bold" stroke-width="0.35">10<tspan dy="-1.6" font-size="3.08">3</tspan></text>
<text x="97.8" y="92.8" font-size="4.4" text-anchor="middle" font-weight="bold" stroke-width="0.35">10<tspan dy="-1.6" font-size="3.08">4</tspan></text>
<text x="11.5" y="87.0" font-size="4.4" text-anchor="middle" font-weight="bold" stroke-width="0.35">10<tspan dy="-1.6" font-size="3.08">0</tspan></text>
<line x1="19.0" y1="84.5" x2="20.5" y2="84.5" stroke="#000" stroke-width="0.6"/>
<line x1="20.5" y1="84.5" x2="20.5" y2="86.0" stroke="#000" stroke-width="0.6"/>
<text x="11.5" y="70.625" font-size="4.4" text-anchor="middle" font-weight="bold" stroke-width="0.35">10<tspan dy="-1.6" font-size="3.08">1</tspan></text>
<line x1="19.0" y1="68.125" x2="20.5" y2="68.125" stroke="#000" stroke-width="0.6"/>
<line x1="40.25" y1="84.5" x2="40.25" y2="86.0" stroke="#000" stroke-width="0.6"/>
<text x="11.5" y="54.25" font-size="4.4" text-anchor="middle" font-weight="bold" stroke-width="0.35">10<tspan dy="-1.6" font-size="3.08">2</tspan></text>
<line x1="19.0" y1="51.75" x2="20.5" y2="51.75" stroke="#000" stroke-width="0.6"/>
<line x1="60.0" y1="84.5" x2="60.0" y2="86.0" stroke="#000" stroke-width="0.6"/>
<text x="11.5" y="37.875" font-size="4.4" text-anchor="middle" font-weight="bold" stroke-width="0.35">10<tspan dy="-1.6" font-size="3.08">3</tspan></text>
<line x1="19.0" y1="35.375" x2="20.5" y2="35.375" stroke="#000" stroke-width="0.6"/>
<line x1="79.75" y1="84.5" x2="79.75" y2="86.0" stroke="#000" stroke-width="0.6"/>
<text x="11.5" y="21.5" font-size="4.4" text-anchor="middle" font-weight="bold" stroke-width="0.35">10<tspan dy="-1.6" font-size="3.08">4</tspan></text>
<line x1="19.0" y1="19.0" x2="20.5" y2="19.0" stroke="#000" stroke-width="0.6"/>
<line x1="99.5" y1="84.5" x2="99.5" y2="86.0" stroke="#000" stroke-width="0.6"/>
<text x="59.7" y="98.7" font-size="6.2" text-anchor="middle" font-weight="bold">CD8</text>
<text x="7" y="57.75" font-size="6" text-anchor="middle" font-weight="bold" transform="rotate(-90 7 57.75)">CD4</text>
<path d="M45 150.5h1M39 142.5h1M38 151.5h1M37 152.5h1M28 144.5h1M25 149.5h1M32 149.5h1M26 149.5h1M23 149.5h1M48 147.5h1M35 144.5h1M27 138.5h1M37 146.5h1M55 136.5h1M50 137.5h1M36 149.5h1M42 141.5h1M30 146.5h1M32 141.5h1M34 136.5h1M31 139.5h1M44 131.5h1M24 145.5h1M44 135.5h1M26 153.5h1M39 138.5h1M52 143.5h1M58 137.5h1M45 142.5h1M55 139.5h1M38 154.5h1M54 141.5h1M28 131.5h1M38 142.5h1M65 138.5h1M47 140.5h1M49 138.5h1M36 138.5h1M35 134.5h1M48 144.5h1M58 142.5h1M29 141.5h1M27 150.5h1M43 139.5h1M45 151.5h1M55 144.5h1M59 140.5h1M23 138.5h1M33 140.5h1M48 141.5h1M33 142.5h1M43 150.5h1M37 143.5h1M45 146.5h1M43 141.5h1M39 139.5h1M34 144.5h1M26 146.5h1M35 142.5h1M42 140.5h1M35 149.5h1M46 141.5h1M44 142.5h1M24 149.5h1M38 143.5h1M50 143.5h1M45 141.5h1M34 150.5h1M22 142.5h1M39 150.5h1M40 146.5h1M37 147.5h1M38 140.5h1M42 152.5h1M54 139.5h1M49 144.5h1M61 147.5h1M32 144.5h1M50 149.5h1M41 150.5h1M56 137.5h1M47 145.5h1M46 143.5h1M28 142.5h1M38 145.5h1M36 139.5h1M32 140.5h1M30 148.5h1M21 144.5h1M39 132.5h1M40 137.5h1M37 136.5h1M42 144.5h1M30 151.5h1M27 135.5h1M43 142.5h1M42 149.5h1M44 137.5h1M43 154.5h1M24 137.5h1M24 138.5h1M29 134.5h1M60 145.5h1M45 134.5h1M25 143.5h1M47 139.5h1M46 140.5h1M40 144.5h1M38 139.5h1M41 138.5h1M52 137.5h1M46 148.5h1M31 145.5h1M54 135.5h1M64 143.5h1M25 145.5h1M52 147.5h1M53 138.5h1M35 153.5h1M45 139.5h1M29 145.5h1M27 148.5h1M23 141.5h1M25 141.5h1M39 141.5h1M44 128.5h1M46 136.5h1M43 137.5h1M33 144.5h1M24 141.5h1M46 142.5h1M38 133.5h1M29 150.5h1M34 137.5h1M57 140.5h1M50 145.5h1M36 141.5h1M33 136.5h1M33 143.5h1M22 143.5h1M53 148.5h1M33 146.5h1M53 140.5h1M49 139.5h1M48 145.5h1M25 139.5h1M42 145.5h1M41 144.5h1M46 149.5h1M33 138.5h1M27 142.5h1M26 135.5h1M40 147.5h1M31 141.5h1M35 138.5h1M40 141.5h1M54 149.5h1M49 132.5h1M32 152.5h1M51 151.5h1M32 131.5h1M26 141.5h1M44 136.5h1M44 145.5h1M49 146.5h1M40 145.5h1M50 142.5h1M71 155.5h1M43 143.5h1M65 135.5h1M54 143.5h1M45 137.5h1M44 151.5h1M40 148.5h1M36 142.5h1M56 144.5h1M49 134.5h1M59 143.5h1M21 131.5h1M58 143.5h1M25 133.5h1M26 139.5h1M28 146.5h1M37 141.5h1M51 143.5h1M42 136.5h1M42 135.5h1M30 141.5h1M41 142.5h1M31 146.5h1M38 132.5h1M59 142.5h1M28 148.5h1M33 150.5h1M32 147.5h1M47 136.5h1M27 139.5h1M22 147.5h1M29 148.5h1M41 141.5h1M60 146.5h1M45 140.5h1M34 134.5h1M26 134.5h1M21 148.5h1M59 144.5h1M25 140.5h1M33 147.5h1M28 135.5h1M33 139.5h1M36 144.5h1M35 148.5h1M54 142.5h1M33 141.5h1M27 134.5h1M30 142.5h1M37 142.5h1M33 137.5h1M40 149.5h1M33 148.5h1M26 138.5h1M45 148.5h1M30 140.5h1M25 135.5h1M63 140.5h1M26 132.5h1M44 132.5h1M49 141.5h1M40 135.5h1M26 142.5h1M64 141.5h1M41 140.5h1M54 140.5h1M38 146.5h1M30 143.5h1M46 137.5h1M39 140.5h1M51 148.5h1M51 144.5h1M38 137.5h1M30 139.5h1M44 143.5h1M22 141.5h1M25 144.5h1M35 139.5h1M48 151.5h1M41 135.5h1M57 143.5h1M57 148.5h1M48 140.5h1M40 138.5h1M36 140.5h1M28 143.5h1M41 148.5h1M25 142.5h1M52 144.5h1M36 145.5h1M30 145.5h1M23 139.5h1M50 141.5h1M47 148.5h1M34 140.5h1M44 149.5h1M37 137.5h1M44 141.5h1M53 133.5h1M47 143.5h1M52 152.5h1M49 143.5h1M31 137.5h1M42 137.5h1M37 140.5h1M48 143.5h1M49 145.5h1M36 143.5h1M38 141.5h1M47 146.5h1M48 135.5h1M25 147.5h1M36 135.5h1M40 133.5h1M34 138.5h1M43 147.5h1M41 147.5h1M40 139.5h1M44 144.5h1M45 138.5h1M27 141.5h1M38 148.5h1M34 142.5h1M23 134.5h1M50 140.5h1M46 144.5h1M31 151.5h1M42 142.5h1M22 146.5h1M56 145.5h1M27 146.5h1M42 150.5h1M29 149.5h1M42 139.5h1M59 141.5h1M53 139.5h1M39 147.5h1M32 137.5h1M26 145.5h1M50 144.5h1M30 133.5h1M34 148.5h1M43 145.5h1M70 140.5h1M51 142.5h1M57 141.5h1M22 151.5h1M52 135.5h1M53 143.5h1M30 144.5h1M43 140.5h1M36 146.5h1M22 144.5h1M58 154.5h1M48 146.5h1M41 145.5h1M29 139.5h1M28 140.5h1M47 138.5h1M43 146.5h1M38 147.5h1M34 143.5h1M32 146.5h1M32 145.5h1M32 142.5h1M50 139.5h1M34 151.5h1M42 138.5h1M22 148.5h1M48 138.5h1M29 133.5h1M54 150.5h1M42 146.5h1M21 139.5h1M29 146.5h1M84 163.5h1M66 166.5h1M71 171.5h1M74 174.5h1M76 162.5h1M72 158.5h1M91 156.5h1M71 159.5h1M73 168.5h1M73 170.5h1M92 162.5h1M78 165.5h1M69 163.5h1M83 154.5h1M73 166.5h1M80 170.5h1M67 168.5h1M71 160.5h1M87 166.5h1M76 161.5h1M77 164.5h1M79 151.5h1M83 173.5h1M71 164.5h1M68 144.5h1M75 165.5h1M83 172.5h1M84 159.5h1M71 158.5h1M68 175.5h1M61 173.5h1M92 165.5h1M75 157.5h1M91 158.5h1M80 176.5h1M86 165.5h1M81 165.5h1M91 161.5h1M82 167.5h1M74 163.5h1M79 176.5h1M68 171.5h1M73 159.5h1M84 155.5h1M68 162.5h1M83 178.5h1M86 173.5h1M77 166.5h1M73 174.5h1M82 172.5h1M72 159.5h1M72 164.5h1M69 174.5h1M67 178.5h1M75 159.5h1M77 163.5h1M73 177.5h1M79 161.5h1M83 169.5h1M66 164.5h1M75 172.5h1M69 155.5h1M71 156.5h1M74 159.5h1M75 162.5h1M74 170.5h1M88 164.5h1M83 157.5h1M62 171.5h1M79 158.5h1M81 176.5h1M67 169.5h1M87 164.5h1M82 155.5h1M88 166.5h1M66 167.5h1M73 172.5h1M70 168.5h1M70 166.5h1M66 162.5h1M76 167.5h1M64 170.5h1M83 164.5h1M81 154.5h1M58 157.5h1M78 172.5h1M95 164.5h1M73 157.5h1M86 166.5h1M77 178.5h1M67 166.5h1M62 166.5h1M77 171.5h1M77 151.5h1M70 163.5h1M87 158.5h1M71 161.5h1M82 173.5h1M80 169.5h1M80 158.5h1M78 169.5h1M85 171.5h1M84 153.5h1M69 152.5h1M80 177.5h1M76 175.5h1M74 167.5h1M87 175.5h1M77 174.5h1M85 143.5h1M69 170.5h1M72 177.5h1M74 169.5h1M68 161.5h1M78 155.5h1M69 178.5h1M76 150.5h1M76 157.5h1M80 172.5h1M81 162.5h1M73 154.5h1M76 176.5h1M75 178.5h1M82 151.5h1M78 167.5h1M69 171.5h1M90 166.5h1M85 178.5h1M77 169.5h1M81 171.5h1M70 169.5h1M77 167.5h1M68 178.5h1M79 173.5h1M76 165.5h1M73 148.5h1M75 167.5h1M82 176.5h1M64 175.5h1M70 176.5h1M72 152.5h1M61 162.5h1M90 147.5h1M75 175.5h1M86 172.5h1M74 145.5h1M76 172.5h1M75 176.5h1M63 160.5h1M68 165.5h1M73 155.5h1M78 170.5h1M78 175.5h1M66 169.5h1M67 164.5h1M69 169.5h1M63 171.5h1M67 174.5h1M84 154.5h1M80 166.5h1M68 157.5h1M78 160.5h1M70 160.5h1M68 155.5h1M93 165.5h1M81 163.5h1M78 168.5h1M77 165.5h1M74 173.5h1M83 170.5h1M81 146.5h1M87 177.5h1M63 167.5h1M81 166.5h1M78 162.5h1M83 175.5h1M80 164.5h1M61 176.5h1M81 178.5h1M69 156.5h1M62 174.5h1M85 162.5h1M77 156.5h1M80 162.5h1M84 161.5h1M74 171.5h1M74 177.5h1M67 155.5h1M77 150.5h1M78 166.5h1M69 168.5h1M72 167.5h1M66 172.5h1M79 150.5h1M83 167.5h1M76 159.5h1M65 165.5h1M75 155.5h1M84 171.5h1M66 161.5h1M82 154.5h1M86 174.5h1M87 172.5h1M81 160.5h1M75 174.5h1M76 152.5h1M68 170.5h1M83 153.5h1M78 164.5h1M88 174.5h1M70 155.5h1M79 168.5h1M69 172.5h1M72 157.5h1M76 158.5h1M74 175.5h1M70 174.5h1M73 153.5h1M66 168.5h1M87 162.5h1M66 171.5h1M83 179.5h1M81 161.5h1M73 162.5h1M84 176.5h1M83 163.5h1M76 163.5h1M79 177.5h1M75 177.5h1M57 162.5h1M92 158.5h1M80 168.5h1M76 171.5h1M75 169.5h1M71 157.5h1M71 165.5h1M82 170.5h1M77 160.5h1M82 163.5h1M83 141.5h1M73 164.5h1M80 171.5h1M71 170.5h1M67 165.5h1M89 173.5h1M72 166.5h1M72 154.5h1M70 171.5h1M68 152.5h1M74 160.5h1M60 172.5h1M76 174.5h1M71 168.5h1M57 170.5h1M65 168.5h1M59 175.5h1M65 177.5h1M86 170.5h1M73 161.5h1M78 163.5h1M77 162.5h1M69 160.5h1M72 163.5h1M73 158.5h1M63 158.5h1M74 156.5h1M58 163.5h1M88 144.5h1M84 168.5h1M86 163.5h1M64 155.5h1M63 163.5h1M84 151.5h1M75 166.5h1M72 176.5h1M74 165.5h1M87 163.5h1M84 164.5h1M65 157.5h1M82 171.5h1M89 179.5h1M93 175.5h1M75 173.5h1M73 176.5h1M73 165.5h1M84 173.5h1M73 178.5h1M77 173.5h1M63 170.5h1M74 148.5h1M63 168.5h1M76 151.5h1M84 175.5h1M81 168.5h1M71 162.5h1M75 160.5h1M84 170.5h1M84 158.5h1M74 166.5h1M71 166.5h1M85 175.5h1M80 173.5h1M64 171.5h1M88 160.5h1M72 178.5h1M68 167.5h1M82 165.5h1M67 176.5h1M84 167.5h1M78 177.5h1M88 169.5h1M78 161.5h1M84 166.5h1M79 169.5h1M58 168.5h1M63 165.5h1M76 170.5h1M79 172.5h1M65 172.5h1M92 163.5h1M80 178.5h1M66 158.5h1M81 149.5h1M71 173.5h1M69 161.5h1M60 175.5h1M81 172.5h1M77 168.5h1M75 146.5h1M81 151.5h1M89 170.5h1M63 161.5h1M76 160.5h1M66 163.5h1M68 173.5h1M77 177.5h1M81 167.5h1M85 156.5h1M66 175.5h1M74 158.5h1M84 177.5h1M87 160.5h1M72 161.5h1M72 172.5h1M70 142.5h1M76 155.5h1M74 176.5h1M89 171.5h1M76 164.5h1M60 157.5h1M67 159.5h1M65 167.5h1M79 163.5h1M64 167.5h1M29 160.5h1M33 160.5h1M34 168.5h1M39 167.5h1M47 161.5h1M33 166.5h1M43 159.5h1M43 156.5h1M30 172.5h1M36 158.5h1M38 167.5h1M48 168.5h1M41 176.5h1M33 177.5h1M39 165.5h1M47 174.5h1M39 162.5h1M41 160.5h1M24 160.5h1M38 176.5h1M31 163.5h1M39 163.5h1M42 153.5h1M34 170.5h1M31 161.5h1M45 159.5h1M39 160.5h1M40 154.5h1M30 159.5h1M38 164.5h1M44 157.5h1M31 172.5h1M40 160.5h1M37 163.5h1M48 166.5h1M35 161.5h1M34 169.5h1M28 156.5h1M29 166.5h1M39 172.5h1M30 156.5h1M40 173.5h1M28 153.5h1M26 173.5h1M33 169.5h1M41 170.5h1M40 177.5h1M30 166.5h1M39 171.5h1M32 163.5h1M32 178.5h1M44 171.5h1M35 176.5h1M42 170.5h1M40 157.5h1M31 166.5h1M37 169.5h1M50 162.5h1M37 158.5h1M25 168.5h1M32 162.5h1M22 163.5h1M22 154.5h1M41 167.5h1M40 175.5h1M30 175.5h1M30 164.5h1M34 164.5h1M45 170.5h1M43 163.5h1M58 147.5h1M50 174.5h1M34 158.5h1M46 165.5h1M38 159.5h1M43 168.5h1M30 165.5h1M41 171.5h1M32 172.5h1M42 167.5h1M26 170.5h1M23 171.5h1M55 162.5h1M43 153.5h1M33 159.5h1M36 167.5h1M29 177.5h1M29 171.5h1M40 169.5h1M37 172.5h1M47 158.5h1M50 170.5h1M38 172.5h1M34 172.5h1M30 167.5h1M38 163.5h1M48 172.5h1M50 172.5h1M31 164.5h1M36 176.5h1M31 153.5h1M35 170.5h1M56 157.5h1M44 168.5h1M36 172.5h1M21 171.5h1M42 172.5h1M21 162.5h1M49 170.5h1M43 164.5h1M35 171.5h1M46 166.5h1M40 155.5h1M24 169.5h1M26 163.5h1M47 169.5h1M36 164.5h1M27 176.5h1M43 171.5h1M40 166.5h1M47 162.5h1M23 162.5h1M52 172.5h1M47 164.5h1M22 166.5h1M50 177.5h1M43 175.5h1M23 170.5h1M42 163.5h1M42 168.5h1M37 161.5h1M40 170.5h1M46 155.5h1M47 163.5h1M45 165.5h1M33 157.5h1M46 163.5h1M31 160.5h1M27 162.5h1M41 157.5h1M43 169.5h1M29 170.5h1M40 158.5h1M57 168.5h1M37 162.5h1M35 160.5h1M35 151.5h1M31 159.5h1M44 150.5h1M55 171.5h1M35 159.5h1M44 172.5h1M48 164.5h1M28 163.5h1M34 167.5h1M46 164.5h1M49 158.5h1M57 161.5h1M38 177.5h1M44 177.5h1M25 167.5h1M27 165.5h1M28 169.5h1M37 170.5h1M45 171.5h1M40 165.5h1M24 172.5h1M52 168.5h1M29 165.5h1M41 163.5h1M25 169.5h1M35 163.5h1M34 159.5h1M34 161.5h1M44 161.5h1M22 158.5h1M36 173.5h1M34 156.5h1M42 174.5h1M35 162.5h1M53 163.5h1M53 156.5h1M27 166.5h1M35 172.5h1M44 163.5h1M33 170.5h1M37 157.5h1M28 161.5h1M33 176.5h1M37 168.5h1M36 155.5h1M42 164.5h1M32 173.5h1M36 160.5h1M44 169.5h1M40 164.5h1M43 176.5h1M30 171.5h1M21 168.5h1M26 165.5h1M31 162.5h1M27 152.5h1M31 165.5h1M38 169.5h1M46 169.5h1M41 178.5h1M29 162.5h1M52 169.5h1M45 173.5h1M41 173.5h1M32 165.5h1M43 161.5h1M40 178.5h1M41 177.5h1M35 166.5h1M33 171.5h1M42 177.5h1M32 168.5h1M34 160.5h1M22 178.5h1M25 166.5h1M42 151.5h1M31 150.5h1M53 151.5h1M28 152.5h1M50 146.5h1M38 152.5h1M28 149.5h1M23 148.5h1M45 147.5h1M57 151.5h1M39 148.5h1M51 152.5h1M38 149.5h1M21 152.5h1M37 150.5h1M25 151.5h1M22 152.5h1M43 149.5h1M24 146.5h1M44 147.5h1M50 150.5h1M31 147.5h1M33 152.5h1M56 150.5h1M39 151.5h1M50 147.5h1M51 145.5h1M52 151.5h1M24 152.5h1M55 150.5h1M56 147.5h1M22 149.5h1M48 148.5h1M28 151.5h1M49 149.5h1M54 147.5h1M55 148.5h1M41 149.5h1M35 145.5h1M57 145.5h1M25 152.5h1M44 146.5h1M42 147.5h1M39 145.5h1M36 147.5h1M45 152.5h1M35 146.5h1M54 145.5h1M37 148.5h1M41 146.5h1M51 146.5h1M31 149.5h1M50 151.5h1M25 150.5h1M26 151.5h1M26 147.5h1M29 151.5h1M55 147.5h1M45 149.5h1M35 152.5h1M23 152.5h1M40 151.5h1M24 148.5h1M27 147.5h1M35 147.5h1M38 150.5h1M47 150.5h1M49 148.5h1M48 149.5h1M28 147.5h1M39 149.5h1M36 148.5h1M41 151.5h1M33 151.5h1M29 152.5h1M23 150.5h1M46 146.5h1M49 150.5h1M56 152.5h1M45 145.5h1M36 151.5h1M43 152.5h1M53 145.5h1M21 149.5h1M55 146.5h1M27 149.5h1M32 148.5h1M46 147.5h1M51 150.5h1M56 151.5h1M43 148.5h1M56 148.5h1M34 146.5h1M40 150.5h1M41 154.5h1M55 164.5h1M31 175.5h1M55 169.5h1M58 177.5h1M56 162.5h1M54 159.5h1M29 164.5h1M28 174.5h1M35 158.5h1M33 158.5h1M22 171.5h1M45 153.5h1M30 153.5h1M47 160.5h1M27 177.5h1M54 172.5h1M49 165.5h1M42 173.5h1M24 156.5h1M45 176.5h1M38 155.5h1M47 168.5h1M23 169.5h1M45 162.5h1M30 176.5h1M54 162.5h1M54 175.5h1M28 164.5h1M28 166.5h1M44 166.5h1M36 162.5h1M28 160.5h1M35 154.5h1M54 160.5h1M57 174.5h1M45 163.5h1M23 158.5h1M34 162.5h1M25 175.5h1M31 169.5h1M55 158.5h1M21 154.5h1M53 178.5h1M42 157.5h1M45 174.5h1M50 164.5h1M39 179.5h1M46 178.5h1M52 157.5h1M45 160.5h1M54 173.5h1M43 158.5h1M48 162.5h1M45 156.5h1M32 176.5h1M45 169.5h1M51 158.5h1M54 163.5h1M55 165.5h1M41 161.5h1M40 163.5h1M23 160.5h1M54 158.5h1M25 176.5h1M35 157.5h1M55 174.5h1M22 161.5h1M55 163.5h1M46 170.5h1M29 163.5h1M46 175.5h1M34 177.5h1M39 166.5h1M43 170.5h1M37 175.5h1M38 161.5h1M31 154.5h1M43 172.5h1M50 154.5h1M29 178.5h1M26 177.5h1M29 154.5h1M41 164.5h1M47 153.5h1M35 164.5h1M48 177.5h1M28 175.5h1M51 170.5h1M26 167.5h1M26 157.5h1M39 176.5h1M52 174.5h1M48 173.5h1M32 159.5h1M47 154.5h1M52 175.5h1M53 173.5h1M53 155.5h1M26 166.5h1M53 166.5h1M44 155.5h1M52 163.5h1M57 167.5h1M40 172.5h1M23 165.5h1M48 157.5h1M33 156.5h1M58 162.5h1M56 169.5h1M24 176.5h1M22 174.5h1M50 160.5h1M27 171.5h1M54 174.5h1M22 177.5h1M21 157.5h1M23 156.5h1M23 176.5h1M21 163.5h1M22 176.5h1M22 167.5h1M22 153.5h1M21 158.5h1M22 168.5h1M21 177.5h1M22 165.5h1M40 179.5h1M22 179.5h1M36 178.5h1M54 177.5h1M50 178.5h1M39 178.5h1M43 178.5h1M51 178.5h1M37 179.5h1M34 178.5h1M32 179.5h1M52 178.5h1M31 178.5h1M26 179.5h1M37 177.5h1M24 179.5h1M44 178.5h1M27 178.5h1M55 179.5h1M90 118.5h1M96 123.5h1M81 142.5h1M93 117.5h1M75 148.5h1M87 117.5h1M81 135.5h1M80 148.5h1M72 129.5h1M73 117.5h1M68 139.5h1M85 123.5h1M93 130.5h1M87 138.5h1M61 128.5h1M71 140.5h1M98 151.5h1M82 122.5h1M80 121.5h1M71 139.5h1M73 143.5h1M87 127.5h1M65 143.5h1M81 121.5h1M64 120.5h1M82 130.5h1M60 121.5h1M60 132.5h1M66 143.5h1M79 116.5h1M90 126.5h1M66 144.5h1M71 146.5h1M73 140.5h1M71 131.5h1M96 125.5h1M80 144.5h1M64 130.5h1M72 116.5h1M98 145.5h1M78 149.5h1M67 131.5h1M98 141.5h1M80 147.5h1M90 140.5h1M78 135.5h1M84 134.5h1M67 129.5h1M98 139.5h1M62 118.5h1M59 135.5h1M74 138.5h1M64 125.5h1M83 146.5h1M98 146.5h1M63 130.5h1M63 145.5h1M78 142.5h1M63 137.5h1M74 118.5h1M81 127.5h1M79 137.5h1M68 119.5h1M78 150.5h1M91 118.5h1M94 131.5h1M98 148.5h1M70 124.5h1M63 132.5h1M97 151.5h1M70 149.5h1M92 116.5h1M76 148.5h1M83 122.5h1M86 116.5h1M98 121.5h1M96 140.5h1M73 124.5h1M68 129.5h1M88 134.5h1M63 122.5h1M68 140.5h1M91 139.5h1M92 133.5h1M82 147.5h1M71 133.5h1M97 132.5h1M95 117.5h1M85 122.5h1M89 143.5h1M84 146.5h1M72 124.5h1M75 134.5h1M89 118.5h1M61 132.5h1M93 133.5h1M69 145.5h1M93 148.5h1M67 119.5h1M63 138.5h1M85 133.5h1M58 138.5h1M64 139.5h1M94 126.5h1M86 151.5h1M86 139.5h1M85 139.5h1M81 134.5h1M84 139.5h1M86 133.5h1M87 134.5h1M89 132.5h1M79 133.5h1M85 131.5h1M85 138.5h1M84 138.5h1M80 134.5h1M83 131.5h1M85 132.5h1M89 133.5h1M88 136.5h1M88 133.5h1M87 136.5h1M89 137.5h1M83 134.5h1M81 136.5h1M83 139.5h1M86 130.5h1M83 136.5h1M89 135.5h1M82 137.5h1M83 133.5h1M83 132.5h1M88 135.5h1M89 139.5h1M81 137.5h1M86 134.5h1M87 133.5h1M80 135.5h1M81 138.5h1M84 131.5h1M87 137.5h1M84 133.5h1M82 134.5h1M81 133.5h1M87 132.5h1M82 136.5h1M84 129.5h1M84 125.5h1M98 137.5h1M85 135.5h1M76 137.5h1M81 144.5h1M91 133.5h1M86 136.5h1M93 137.5h1M75 138.5h1M84 141.5h1M78 131.5h1M76 125.5h1M87 135.5h1M77 131.5h1M92 138.5h1M87 147.5h1M79 138.5h1M93 132.5h1M82 131.5h1M80 140.5h1M94 137.5h1M82 139.5h1M84 126.5h1M86 129.5h1M83 142.5h1M87 131.5h1M92 134.5h1M83 140.5h1M90 130.5h1M83 124.5h1M88 130.5h1M78 138.5h1M80 146.5h1M95 125.5h1M85 125.5h1M86 125.5h1M77 124.5h1M70 148.5h1M70 143.5h1M66 150.5h1M67 150.5h1M68 143.5h1M69 149.5h1M66 148.5h1M70 151.5h1M63 143.5h1M65 148.5h1M67 146.5h1M59 151.5h1M70 147.5h1M64 151.5h1M65 145.5h1M60 147.5h1M71 151.5h1M70 145.5h1M62 151.5h1M69 150.5h1M69 151.5h1M71 144.5h1M60 159.5h1M68 163.5h1M89 158.5h1M84 157.5h1M71 172.5h1M60 160.5h1M62 164.5h1M94 159.5h1M72 165.5h1M60 178.5h1M95 170.5h1M62 175.5h1M83 177.5h1M76 173.5h1M69 167.5h1M64 154.5h1M97 173.5h1M85 177.5h1M66 156.5h1M60 154.5h1M87 159.5h1M98 169.5h1M61 158.5h1M96 152.5h1M85 176.5h1M93 164.5h1M89 157.5h1M95 157.5h1M90 169.5h1M66 178.5h1M58 179.5h1M60 173.5h1M83 159.5h1M62 173.5h1M82 157.5h1M96 156.5h1M81 155.5h1M64 166.5h1M69 177.5h1M80 153.5h1M93 167.5h1M68 168.5h1M90 158.5h1M58 176.5h1M87 154.5h1M72 155.5h1M94 154.5h1M86 156.5h1M85 161.5h1M96 161.5h1M86 160.5h1M69 158.5h1M59 159.5h1M59 166.5h1M64 160.5h1M82 158.5h1M65 159.5h1M59 154.5h1M97 167.5h1M86 159.5h1M71 153.5h1M79 179.5h1M86 162.5h1M91 162.5h1M98 175.5h1M71 175.5h1M79 174.5h1M82 177.5h1M66 165.5h1M85 169.5h1M70 153.5h1M88 154.5h1M60 169.5h1M68 166.5h1M75 158.5h1M93 161.5h1M68 153.5h1M92 164.5h1M39 119.5h1M26 123.5h1M22 119.5h1M39 126.5h1M25 130.5h1M24 119.5h1M57 130.5h1M55 117.5h1M47 121.5h1M50 128.5h1M29 123.5h1M38 129.5h1M56 127.5h1M55 127.5h1M27 124.5h1M50 117.5h1M50 119.5h1" stroke="#000" stroke-width="1" fill="none" opacity="0.72" filter="url(#sb)"/>
<path d="M44 142.5h1M34 142.5h1M49 145.5h1M33 142.5h1M31 140.5h1M29 144.5h1M42 142.5h1M52 145.5h1M35 148.5h1M30 144.5h1M51 138.5h1M51 139.5h1M37 144.5h1M41 137.5h1M32 141.5h1M35 143.5h1M39 141.5h1M39 140.5h1M48 142.5h1M50 141.5h1M44 144.5h1M51 140.5h1M51 141.5h1M53 146.5h1M25 144.5h1M51 142.5h1M47 142.5h1M27 143.5h1M35 139.5h1M48 140.5h1M31 145.5h1M32 147.5h1M32 142.5h1M52 141.5h1M34 143.5h1M32 144.5h1M38 144.5h1M50 146.5h1M29 143.5h1M33 141.5h1M33 144.5h1M44 145.5h1M45 140.5h1M42 140.5h1M54 148.5h1M31 144.5h1M32 138.5h1M51 143.5h1M36 139.5h1M36 142.5h1M51 145.5h1M42 139.5h1M53 145.5h1M44 140.5h1M38 139.5h1M51 146.5h1M25 145.5h1M44 139.5h1M45 134.5h1M41 141.5h1M34 139.5h1M44 146.5h1M47 145.5h1M33 143.5h1M40 145.5h1M28 141.5h1M47 136.5h1M34 141.5h1M48 141.5h1M50 139.5h1M37 141.5h1M51 152.5h1M49 144.5h1M35 140.5h1M29 142.5h1M47 146.5h1M48 147.5h1M45 141.5h1M36 145.5h1M46 142.5h1M46 145.5h1M49 142.5h1M28 143.5h1M24 143.5h1M50 137.5h1M44 141.5h1M33 145.5h1M31 143.5h1M40 141.5h1M34 145.5h1M27 142.5h1M37 142.5h1M24 144.5h1M36 144.5h1M48 137.5h1M22 143.5h1M36 137.5h1M48 138.5h1M45 145.5h1M45 143.5h1M27 141.5h1M26 145.5h1M55 137.5h1M43 146.5h1M30 141.5h1M41 147.5h1M36 141.5h1M47 143.5h1M48 145.5h1M25 141.5h1M39 142.5h1M45 142.5h1M33 147.5h1M42 145.5h1M22 140.5h1M51 137.5h1M34 144.5h1M42 144.5h1M43 148.5h1M48 144.5h1M42 146.5h1M49 139.5h1M52 138.5h1M44 147.5h1M30 139.5h1M50 136.5h1M29 139.5h1M30 136.5h1M40 143.5h1M29 138.5h1M45 147.5h1M25 142.5h1M29 145.5h1M39 144.5h1M41 135.5h1M26 138.5h1M46 141.5h1M47 135.5h1M36 147.5h1M49 149.5h1M52 146.5h1M25 143.5h1M29 140.5h1M46 140.5h1M48 143.5h1M31 147.5h1M49 141.5h1M56 144.5h1M47 141.5h1M50 144.5h1M51 147.5h1M49 140.5h1M42 143.5h1M41 140.5h1M23 142.5h1M43 144.5h1M55 148.5h1M39 138.5h1M25 146.5h1M25 140.5h1M44 143.5h1M33 140.5h1M42 135.5h1M43 142.5h1M45 146.5h1M30 146.5h1M53 141.5h1M26 143.5h1M38 142.5h1M43 140.5h1M37 143.5h1M38 147.5h1M23 144.5h1M37 140.5h1M38 140.5h1M49 143.5h1M38 143.5h1M51 144.5h1M41 143.5h1M43 141.5h1M31 141.5h1M36 143.5h1M54 145.5h1M43 147.5h1M37 137.5h1M46 144.5h1M33 148.5h1M37 138.5h1M38 141.5h1M35 144.5h1M31 146.5h1M29 141.5h1M30 140.5h1M53 137.5h1M40 142.5h1M38 145.5h1M43 143.5h1M28 146.5h1M26 146.5h1M33 146.5h1M32 139.5h1M27 139.5h1M35 149.5h1M39 143.5h1M26 140.5h1M40 137.5h1M40 139.5h1M28 144.5h1M35 141.5h1M28 139.5h1M24 140.5h1M49 136.5h1M50 140.5h1M52 139.5h1M35 137.5h1M39 145.5h1M27 147.5h1M32 140.5h1M32 143.5h1M36 148.5h1M23 139.5h1M45 151.5h1M50 142.5h1M52 140.5h1M47 144.5h1M43 138.5h1M50 147.5h1M54 139.5h1M52 142.5h1M22 141.5h1M42 141.5h1M27 140.5h1M49 134.5h1M46 146.5h1M49 137.5h1M30 138.5h1M52 143.5h1M26 142.5h1M25 147.5h1M26 144.5h1M49 146.5h1M47 137.5h1M43 139.5h1M45 144.5h1M48 139.5h1M54 142.5h1M36 140.5h1M31 136.5h1M40 144.5h1M40 140.5h1M46 149.5h1M54 147.5h1M22 144.5h1M23 148.5h1M35 142.5h1M53 139.5h1M39 148.5h1M39 149.5h1M34 138.5h1M46 148.5h1M43 151.5h1M46 143.5h1M31 142.5h1M39 137.5h1M35 147.5h1M27 148.5h1M41 145.5h1M28 138.5h1M22 142.5h1M28 140.5h1M32 146.5h1M50 143.5h1M38 138.5h1M53 142.5h1M49 138.5h1M41 142.5h1M24 142.5h1M34 146.5h1M22 139.5h1M46 138.5h1M45 138.5h1M44 138.5h1M28 145.5h1M53 143.5h1M26 141.5h1M47 140.5h1M27 144.5h1M55 144.5h1M24 137.5h1M54 146.5h1M36 146.5h1M40 138.5h1M21 144.5h1M50 148.5h1M53 147.5h1M29 146.5h1M52 144.5h1M22 147.5h1M50 149.5h1M36 136.5h1M39 139.5h1M48 136.5h1M30 147.5h1M21 143.5h1M53 140.5h1M33 137.5h1M46 136.5h1M27 137.5h1M23 145.5h1M26 139.5h1M25 139.5h1M28 142.5h1M23 141.5h1M42 136.5h1M41 149.5h1M44 148.5h1M46 139.5h1M30 142.5h1M37 139.5h1M50 138.5h1M30 143.5h1M40 148.5h1M38 146.5h1M55 139.5h1M51 153.5h1M35 138.5h1M52 147.5h1M30 145.5h1M53 138.5h1M40 134.5h1M53 144.5h1M32 145.5h1M52 137.5h1M37 148.5h1M49 147.5h1M22 145.5h1M48 146.5h1M24 141.5h1M33 139.5h1M42 147.5h1M31 139.5h1M41 139.5h1M41 146.5h1M37 145.5h1M34 137.5h1M50 145.5h1M31 138.5h1M30 148.5h1M23 146.5h1M23 140.5h1M42 133.5h1M26 148.5h1M47 147.5h1M55 141.5h1M40 136.5h1M52 136.5h1M54 140.5h1M55 134.5h1M35 145.5h1M29 149.5h1M21 141.5h1M51 148.5h1M21 142.5h1M51 135.5h1M47 138.5h1M38 148.5h1M24 146.5h1M27 145.5h1M54 136.5h1M41 144.5h1M37 147.5h1M51 151.5h1M21 145.5h1M24 148.5h1M44 135.5h1M54 143.5h1M42 132.5h1M42 138.5h1M35 146.5h1M41 148.5h1M39 147.5h1M29 135.5h1M40 147.5h1M34 135.5h1M47 139.5h1M39 146.5h1M45 139.5h1M45 135.5h1M27 146.5h1M46 137.5h1M52 148.5h1M34 140.5h1M54 141.5h1M51 136.5h1M37 146.5h1M36 138.5h1M40 146.5h1M23 143.5h1M42 137.5h1M46 147.5h1M43 145.5h1M44 137.5h1M36 151.5h1M47 133.5h1M24 139.5h1M51 149.5h1M54 144.5h1M33 149.5h1M48 148.5h1M45 137.5h1M54 138.5h1M30 135.5h1M43 137.5h1M31 149.5h1M49 151.5h1M41 138.5h1M27 138.5h1M24 145.5h1M45 149.5h1M22 146.5h1M38 137.5h1M34 147.5h1M31 137.5h1M45 136.5h1M22 148.5h1M46 150.5h1M59 139.5h1M48 150.5h1M57 138.5h1M43 135.5h1M48 135.5h1M44 136.5h1M42 148.5h1M44 134.5h1M59 138.5h1M52 135.5h1M39 150.5h1M36 149.5h1M43 136.5h1M37 149.5h1M41 150.5h1M28 147.5h1M58 148.5h1M57 140.5h1M59 142.5h1M40 133.5h1M33 138.5h1M53 134.5h1M35 150.5h1M42 151.5h1M44 150.5h1M56 143.5h1M32 151.5h1M46 135.5h1M55 138.5h1M43 149.5h1M48 149.5h1M75 168.5h1M75 164.5h1M80 166.5h1M79 164.5h1M67 161.5h1M84 157.5h1M83 163.5h1M73 167.5h1M78 168.5h1M78 174.5h1M71 176.5h1M77 167.5h1M77 168.5h1M83 165.5h1M65 167.5h1M74 161.5h1M71 164.5h1M82 168.5h1M71 171.5h1M71 163.5h1M72 164.5h1M76 173.5h1M77 166.5h1M77 169.5h1M74 172.5h1M72 175.5h1M73 165.5h1M71 169.5h1M85 162.5h1M76 177.5h1M76 164.5h1M74 177.5h1M74 165.5h1M83 166.5h1M84 159.5h1M74 160.5h1M75 167.5h1M84 173.5h1M70 163.5h1M76 167.5h1M79 173.5h1M73 166.5h1M80 163.5h1M69 167.5h1M79 166.5h1M70 171.5h1M78 156.5h1M83 177.5h1M74 168.5h1M76 160.5h1M75 170.5h1M76 174.5h1M75 166.5h1M82 171.5h1M62 175.5h1M75 176.5h1M65 169.5h1M70 167.5h1M77 163.5h1M82 170.5h1M74 171.5h1M83 169.5h1M75 155.5h1M75 165.5h1M69 163.5h1M72 166.5h1M84 166.5h1M84 172.5h1M81 162.5h1M76 168.5h1M78 163.5h1M82 172.5h1M69 169.5h1M71 170.5h1M83 175.5h1M78 159.5h1M74 175.5h1M78 170.5h1M74 166.5h1M73 173.5h1M82 169.5h1M71 165.5h1M79 174.5h1M80 168.5h1M75 175.5h1M74 163.5h1M73 162.5h1M68 172.5h1M82 167.5h1M69 161.5h1M73 172.5h1M72 172.5h1M80 164.5h1M73 169.5h1M77 162.5h1M73 157.5h1M78 167.5h1M81 160.5h1M78 158.5h1M84 170.5h1M79 170.5h1M79 172.5h1M63 169.5h1M73 171.5h1M70 176.5h1M81 177.5h1M76 171.5h1M66 164.5h1M72 157.5h1M74 157.5h1M69 170.5h1M67 164.5h1M78 164.5h1M77 171.5h1M69 175.5h1M72 167.5h1M71 162.5h1M77 164.5h1M78 172.5h1M83 172.5h1M75 160.5h1M75 169.5h1M80 178.5h1M70 165.5h1M76 169.5h1M84 174.5h1M72 158.5h1M79 169.5h1M78 169.5h1M76 170.5h1M74 167.5h1M68 169.5h1M71 160.5h1M63 165.5h1M71 167.5h1M83 173.5h1M63 168.5h1M69 168.5h1M72 170.5h1M81 175.5h1M84 167.5h1M74 162.5h1M75 171.5h1M80 171.5h1M81 164.5h1M76 172.5h1M66 174.5h1M84 169.5h1M79 165.5h1M77 157.5h1M81 170.5h1M66 167.5h1M80 165.5h1M80 160.5h1M67 163.5h1M75 157.5h1M82 166.5h1M73 174.5h1M88 168.5h1M78 176.5h1M79 160.5h1M90 176.5h1M75 173.5h1M73 154.5h1M69 179.5h1M70 172.5h1M75 174.5h1M74 169.5h1M76 154.5h1M80 174.5h1M71 168.5h1M68 171.5h1M78 160.5h1M81 169.5h1M64 163.5h1M71 172.5h1M83 168.5h1M76 162.5h1M80 176.5h1M70 157.5h1M81 159.5h1M72 165.5h1M72 178.5h1M82 173.5h1M86 178.5h1M83 176.5h1M69 162.5h1M74 164.5h1M87 169.5h1M77 173.5h1M81 171.5h1M78 162.5h1M81 173.5h1M73 161.5h1M80 172.5h1M70 173.5h1M72 160.5h1M81 174.5h1M75 177.5h1M75 172.5h1M72 169.5h1M66 168.5h1M73 177.5h1M74 170.5h1M74 176.5h1M78 166.5h1M71 157.5h1M68 164.5h1M73 176.5h1M73 175.5h1M77 170.5h1M80 177.5h1M88 167.5h1M68 168.5h1M72 173.5h1M64 176.5h1M78 173.5h1M84 168.5h1M68 158.5h1M74 159.5h1M80 173.5h1M78 171.5h1M73 168.5h1M69 166.5h1M85 160.5h1M76 166.5h1M76 165.5h1M74 158.5h1M79 157.5h1M72 159.5h1M76 161.5h1M77 165.5h1M76 163.5h1M72 162.5h1M68 166.5h1M76 152.5h1M77 179.5h1M77 159.5h1M79 168.5h1M87 179.5h1M82 159.5h1M77 172.5h1M84 158.5h1M79 163.5h1M71 154.5h1M68 161.5h1M78 165.5h1M65 165.5h1M80 153.5h1M71 166.5h1M78 155.5h1M82 175.5h1M87 173.5h1M75 158.5h1M84 163.5h1M61 164.5h1M64 159.5h1M79 171.5h1M72 161.5h1M81 172.5h1M75 154.5h1M68 176.5h1M82 163.5h1M72 168.5h1M85 175.5h1M81 168.5h1M67 166.5h1M70 159.5h1M79 162.5h1M81 163.5h1M78 154.5h1M76 176.5h1M79 179.5h1M85 173.5h1M82 165.5h1M81 156.5h1M69 153.5h1M84 160.5h1M70 170.5h1M76 158.5h1M82 152.5h1M78 175.5h1M77 155.5h1M80 159.5h1M79 167.5h1M66 165.5h1M67 168.5h1M75 159.5h1M73 163.5h1M69 159.5h1M77 160.5h1M77 175.5h1M78 161.5h1M84 171.5h1M80 179.5h1M70 164.5h1M79 161.5h1M77 161.5h1M88 178.5h1M68 159.5h1M63 166.5h1M81 176.5h1M71 159.5h1M72 176.5h1M81 161.5h1M82 164.5h1M76 175.5h1M68 167.5h1M73 160.5h1M67 174.5h1M74 173.5h1M84 161.5h1M75 163.5h1M73 164.5h1M69 164.5h1M76 178.5h1M73 158.5h1M68 175.5h1M71 158.5h1M79 175.5h1M75 150.5h1M79 176.5h1M75 162.5h1M84 165.5h1M77 174.5h1M84 164.5h1M74 174.5h1M65 163.5h1M71 173.5h1M69 173.5h1M73 170.5h1M65 164.5h1M81 167.5h1M68 165.5h1M71 175.5h1M70 154.5h1M80 170.5h1M72 177.5h1M82 162.5h1M70 174.5h1M65 162.5h1M64 157.5h1M85 172.5h1M80 161.5h1M72 163.5h1M63 167.5h1M83 167.5h1M79 152.5h1M66 172.5h1M86 176.5h1M65 166.5h1M79 158.5h1M77 150.5h1M72 174.5h1M81 165.5h1M67 152.5h1M86 172.5h1M71 174.5h1M69 172.5h1M82 160.5h1M83 158.5h1M77 156.5h1M68 162.5h1M70 162.5h1M87 170.5h1M75 161.5h1M70 169.5h1M69 177.5h1M80 169.5h1M84 177.5h1M72 171.5h1M86 169.5h1M75 156.5h1M83 157.5h1M71 177.5h1M78 177.5h1M69 174.5h1M85 164.5h1M89 165.5h1M78 149.5h1M83 171.5h1M68 174.5h1M79 159.5h1M81 166.5h1M78 178.5h1M76 179.5h1M69 165.5h1M70 161.5h1M71 150.5h1M73 159.5h1M85 170.5h1M74 153.5h1M66 169.5h1M70 160.5h1M68 170.5h1M81 157.5h1M77 176.5h1M71 178.5h1M78 157.5h1M66 166.5h1M69 178.5h1M66 163.5h1M83 164.5h1M62 174.5h1M86 162.5h1M84 162.5h1M67 176.5h1M83 178.5h1M67 158.5h1M76 157.5h1M61 165.5h1M67 169.5h1M85 165.5h1M77 178.5h1M80 167.5h1M67 162.5h1M66 173.5h1M85 167.5h1M69 160.5h1M83 162.5h1M82 177.5h1M87 163.5h1M64 164.5h1M79 156.5h1M86 158.5h1M80 157.5h1M82 157.5h1M67 175.5h1M85 174.5h1M81 153.5h1M76 159.5h1M70 177.5h1M66 170.5h1M69 176.5h1M68 155.5h1M71 179.5h1M70 166.5h1M85 159.5h1M79 178.5h1M78 179.5h1M70 168.5h1M92 171.5h1M77 177.5h1M81 158.5h1M77 158.5h1M85 171.5h1M87 167.5h1M83 160.5h1M91 168.5h1M74 178.5h1M75 178.5h1M72 156.5h1M68 173.5h1M76 155.5h1M72 153.5h1M65 171.5h1M66 177.5h1M88 171.5h1M81 178.5h1M66 175.5h1M65 168.5h1M70 155.5h1M73 179.5h1M72 154.5h1M62 161.5h1M83 159.5h1M66 171.5h1M85 168.5h1M79 155.5h1M65 172.5h1M67 159.5h1M85 169.5h1M82 155.5h1M64 152.5h1M82 158.5h1M83 174.5h1M83 170.5h1M72 179.5h1M68 163.5h1M68 152.5h1M59 168.5h1M89 168.5h1M72 155.5h1M81 148.5h1M73 156.5h1M86 175.5h1M80 162.5h1M84 155.5h1M82 154.5h1M79 177.5h1M60 167.5h1M87 165.5h1M88 162.5h1M81 155.5h1M67 153.5h1M70 158.5h1M86 157.5h1M70 153.5h1M79 154.5h1M83 161.5h1M78 153.5h1M81 152.5h1M65 161.5h1M69 157.5h1M66 159.5h1M87 161.5h1M74 155.5h1M74 156.5h1M84 156.5h1M67 156.5h1M74 154.5h1M66 153.5h1M65 159.5h1M70 156.5h1M69 156.5h1M57 157.5h1M67 155.5h1M64 155.5h1M71 156.5h1M80 154.5h1M69 154.5h1M60 160.5h1M83 153.5h1M71 152.5h1M71 161.5h1M69 152.5h1M80 156.5h1M66 155.5h1M76 151.5h1M82 161.5h1M85 157.5h1M59 156.5h1M87 158.5h1M87 157.5h1M68 154.5h1M63 158.5h1M86 160.5h1M80 158.5h1M62 159.5h1M80 155.5h1M68 160.5h1M61 158.5h1M61 155.5h1M83 156.5h1M73 153.5h1M66 162.5h1M67 157.5h1M60 156.5h1M66 157.5h1M59 166.5h1M65 156.5h1M73 152.5h1M88 161.5h1M65 157.5h1M84 154.5h1M64 166.5h1M83 154.5h1M88 159.5h1M56 155.5h1M69 158.5h1M58 158.5h1M62 156.5h1M77 154.5h1M61 156.5h1M63 160.5h1M66 154.5h1M71 153.5h1M90 160.5h1M63 162.5h1M75 152.5h1M67 160.5h1M73 155.5h1M35 168.5h1M52 168.5h1M32 163.5h1M43 159.5h1M42 170.5h1M38 164.5h1M21 170.5h1M31 165.5h1M38 166.5h1M43 173.5h1M30 160.5h1M21 165.5h1M23 169.5h1M35 169.5h1M29 164.5h1M40 166.5h1M39 160.5h1M33 175.5h1M24 163.5h1M35 170.5h1M38 162.5h1M35 165.5h1M40 164.5h1M30 163.5h1M40 163.5h1M40 170.5h1M35 161.5h1M30 172.5h1M32 171.5h1M29 168.5h1M44 169.5h1M36 168.5h1M26 163.5h1M34 171.5h1M45 169.5h1M47 168.5h1M45 170.5h1M26 168.5h1M41 164.5h1M26 171.5h1M49 163.5h1M50 161.5h1M26 172.5h1M37 164.5h1M26 167.5h1M37 173.5h1M30 168.5h1M28 169.5h1M43 163.5h1M37 163.5h1M43 162.5h1M39 169.5h1M27 165.5h1M30 164.5h1M43 169.5h1M44 161.5h1M32 169.5h1M51 172.5h1M40 171.5h1M48 174.5h1M40 167.5h1M46 164.5h1M32 167.5h1M23 161.5h1M37 171.5h1M26 166.5h1M38 170.5h1M32 172.5h1M28 155.5h1M32 162.5h1M31 164.5h1M27 168.5h1M47 163.5h1M44 168.5h1M46 165.5h1M42 167.5h1M32 161.5h1M29 162.5h1M26 169.5h1M26 161.5h1M31 169.5h1M42 161.5h1M42 173.5h1M28 177.5h1M54 169.5h1M45 171.5h1M50 162.5h1M29 170.5h1M24 164.5h1M24 173.5h1M29 166.5h1M36 170.5h1M38 169.5h1M35 172.5h1M28 178.5h1M39 172.5h1M29 179.5h1M45 164.5h1M30 159.5h1M35 173.5h1M39 162.5h1M52 169.5h1M36 166.5h1M37 165.5h1M35 163.5h1M38 168.5h1M46 167.5h1M28 160.5h1M45 168.5h1M30 166.5h1M42 172.5h1M38 173.5h1M31 159.5h1M42 164.5h1M30 169.5h1M38 174.5h1M33 159.5h1M29 163.5h1M44 170.5h1M21 172.5h1M41 168.5h1M32 170.5h1M43 164.5h1M25 161.5h1M42 169.5h1M42 154.5h1M43 167.5h1M33 167.5h1M38 165.5h1M30 167.5h1M36 159.5h1M33 169.5h1M41 157.5h1M57 163.5h1M43 176.5h1M28 163.5h1M35 162.5h1M34 169.5h1M25 170.5h1M27 178.5h1M39 164.5h1M25 169.5h1M52 161.5h1M22 169.5h1M48 165.5h1M39 173.5h1M32 168.5h1M24 168.5h1M37 169.5h1M28 172.5h1M42 162.5h1M31 163.5h1M28 164.5h1M26 179.5h1M31 168.5h1M45 166.5h1M40 161.5h1M34 166.5h1M34 164.5h1M24 161.5h1M31 157.5h1M37 174.5h1M26 165.5h1M34 161.5h1M31 166.5h1M38 171.5h1M39 163.5h1M26 164.5h1M41 169.5h1M41 170.5h1M48 161.5h1M32 166.5h1M30 158.5h1M39 175.5h1M39 166.5h1M36 169.5h1M24 172.5h1M41 167.5h1M22 166.5h1M41 159.5h1M33 170.5h1M27 169.5h1M44 162.5h1M40 165.5h1M31 154.5h1M51 170.5h1M21 173.5h1M29 175.5h1M27 170.5h1M33 171.5h1M32 173.5h1M45 167.5h1M47 159.5h1M46 162.5h1M42 165.5h1M35 166.5h1M22 175.5h1M33 160.5h1M36 175.5h1M33 166.5h1M22 168.5h1M35 171.5h1M48 168.5h1M30 176.5h1M43 166.5h1M33 163.5h1M41 173.5h1M23 162.5h1M44 171.5h1M44 173.5h1M32 164.5h1M44 164.5h1M43 168.5h1M31 171.5h1M27 172.5h1M38 158.5h1M26 176.5h1M33 168.5h1M46 174.5h1M41 174.5h1M40 158.5h1M35 164.5h1M30 162.5h1M23 167.5h1M21 171.5h1M35 167.5h1M33 174.5h1M28 171.5h1M40 162.5h1M22 161.5h1M29 169.5h1M29 167.5h1M47 176.5h1M27 166.5h1M40 174.5h1M32 158.5h1M42 174.5h1M51 166.5h1M37 167.5h1M34 170.5h1M37 168.5h1M47 166.5h1M37 153.5h1M46 168.5h1M34 167.5h1M30 170.5h1M31 173.5h1M37 172.5h1M47 164.5h1M43 175.5h1M44 172.5h1M41 175.5h1M48 163.5h1M31 161.5h1M23 170.5h1M42 166.5h1M40 172.5h1M28 170.5h1M48 173.5h1M31 170.5h1M34 173.5h1M32 160.5h1M48 167.5h1M37 170.5h1M36 165.5h1M36 167.5h1M24 166.5h1M30 173.5h1M28 167.5h1M39 171.5h1M43 165.5h1M34 163.5h1M42 171.5h1M36 164.5h1M30 165.5h1M35 159.5h1M44 167.5h1M27 174.5h1M33 176.5h1M40 168.5h1M22 172.5h1M33 179.5h1M34 172.5h1M22 171.5h1M23 158.5h1M31 158.5h1M23 163.5h1M29 160.5h1M39 168.5h1M41 171.5h1M31 160.5h1M42 175.5h1M49 166.5h1M24 175.5h1M49 172.5h1M40 176.5h1M40 169.5h1M24 160.5h1M28 168.5h1M34 165.5h1M51 160.5h1M31 175.5h1M45 163.5h1M39 165.5h1M41 163.5h1M37 166.5h1M33 165.5h1M31 167.5h1M22 164.5h1M54 160.5h1M43 170.5h1M49 168.5h1M29 171.5h1M26 173.5h1M30 177.5h1M36 174.5h1M25 175.5h1M49 161.5h1M51 176.5h1M31 177.5h1M54 167.5h1M38 167.5h1M23 172.5h1M53 169.5h1M36 173.5h1M29 172.5h1M50 165.5h1M45 165.5h1M31 172.5h1M36 172.5h1M46 161.5h1M27 162.5h1M29 158.5h1M36 150.5h1M46 166.5h1M42 159.5h1M52 172.5h1M39 170.5h1M39 167.5h1M41 172.5h1M43 171.5h1M38 163.5h1M23 168.5h1M32 159.5h1M23 160.5h1M49 171.5h1M47 167.5h1M36 162.5h1M33 161.5h1M38 154.5h1M29 165.5h1M27 171.5h1M27 159.5h1M36 171.5h1M22 165.5h1M39 178.5h1M38 176.5h1M44 174.5h1M34 168.5h1M25 168.5h1M24 162.5h1M50 169.5h1M35 158.5h1M33 173.5h1M26 162.5h1M47 173.5h1M21 159.5h1M27 163.5h1M49 167.5h1M42 157.5h1M34 162.5h1M37 160.5h1M37 155.5h1M28 165.5h1M41 166.5h1M42 160.5h1M27 167.5h1M33 158.5h1M31 162.5h1M52 163.5h1M27 164.5h1M24 170.5h1M37 161.5h1M28 162.5h1M41 162.5h1M28 156.5h1M51 167.5h1M46 163.5h1M47 169.5h1M33 172.5h1M50 163.5h1M43 174.5h1M31 179.5h1M30 171.5h1M41 165.5h1M52 173.5h1M42 168.5h1M49 158.5h1M45 172.5h1M31 155.5h1M34 160.5h1M48 160.5h1M32 165.5h1M48 169.5h1M35 160.5h1M37 175.5h1M39 159.5h1M29 173.5h1M40 160.5h1M35 176.5h1M30 175.5h1M35 175.5h1M27 177.5h1M35 174.5h1M32 175.5h1M46 171.5h1M22 162.5h1M28 158.5h1M37 159.5h1M51 168.5h1M49 164.5h1M48 166.5h1M25 166.5h1M24 169.5h1M46 170.5h1M39 176.5h1M29 177.5h1M41 156.5h1M33 155.5h1" stroke="#000" stroke-width="1" fill="none" opacity="1" filter="url(#sb)"/>
<rect x="20.50" y="115.00" width="79.00" height="65.00" fill="none" stroke="#000" stroke-width="1.1"/>
<line x1="58.5" y1="115" x2="58.5" y2="180" stroke="#000" stroke-width="0.7" opacity="0.8"/>
<line x1="20.5" y1="152.5" x2="99.5" y2="152.5" stroke="#000" stroke-width="0.7" opacity="0.8"/>
<text x="59" y="112.4" font-size="7.2" text-anchor="middle" font-weight="bold">DOCK2-/-</text>
<rect x="25.70" y="122.90" width="12.00" height="5.20" fill="#fff"/>
<text x="26.5" y="127.3" font-size="5.5" text-anchor="start" font-weight="bold" stroke-width="0.4">35.3</text>
<rect x="84.70" y="173.80" width="12.00" height="5.20" fill="#fff"/>
<text x="85.5" y="178.2" font-size="5.5" text-anchor="start" font-weight="bold" stroke-width="0.4">56.4</text>
<text x="21.8" y="188.6" font-size="4.4" text-anchor="middle" font-weight="bold" stroke-width="0.35">10<tspan dy="-1.6" font-size="3.08">0</tspan></text>
<text x="40.8" y="188.6" font-size="4.4" text-anchor="middle" font-weight="bold" stroke-width="0.35">10<tspan dy="-1.6" font-size="3.08">1</tspan></text>
<text x="59.8" y="188.6" font-size="4.4" text-anchor="middle" font-weight="bold" stroke-width="0.35">10<tspan dy="-1.6" font-size="3.08">2</tspan></text>
<text x="78.8" y="188.6" font-size="4.4" text-anchor="middle" font-weight="bold" stroke-width="0.35">10<tspan dy="-1.6" font-size="3.08">3</tspan></text>
<text x="97.8" y="188.6" font-size="4.4" text-anchor="middle" font-weight="bold" stroke-width="0.35">10<tspan dy="-1.6" font-size="3.08">4</tspan></text>
<text x="11.5" y="182.5" font-size="4.4" text-anchor="middle" font-weight="bold" stroke-width="0.35">10<tspan dy="-1.6" font-size="3.08">0</tspan></text>
<line x1="19.0" y1="180.0" x2="20.5" y2="180.0" stroke="#000" stroke-width="0.6"/>
<line x1="20.5" y1="180" x2="20.5" y2="181.5" stroke="#000" stroke-width="0.6"/>
<text x="11.5" y="166.25" font-size="4.4" text-anchor="middle" font-weight="bold" stroke-width="0.35">10<tspan dy="-1.6" font-size="3.08">1</tspan></text>
<line x1="19.0" y1="163.75" x2="20.5" y2="163.75" stroke="#000" stroke-width="0.6"/>
<line x1="40.25" y1="180" x2="40.25" y2="181.5" stroke="#000" stroke-width="0.6"/>
<text x="11.5" y="150.0" font-size="4.4" text-anchor="middle" font-weight="bold" stroke-width="0.35">10<tspan dy="-1.6" font-size="3.08">2</tspan></text>
<line x1="19.0" y1="147.5" x2="20.5" y2="147.5" stroke="#000" stroke-width="0.6"/>
<line x1="60.0" y1="180" x2="60.0" y2="181.5" stroke="#000" stroke-width="0.6"/>
<text x="11.5" y="133.75" font-size="4.4" text-anchor="middle" font-weight="bold" stroke-width="0.35">10<tspan dy="-1.6" font-size="3.08">3</tspan></text>
<line x1="19.0" y1="131.25" x2="20.5" y2="131.25" stroke="#000" stroke-width="0.6"/>
<line x1="79.75" y1="180" x2="79.75" y2="181.5" stroke="#000" stroke-width="0.6"/>
<text x="11.5" y="117.5" font-size="4.4" text-anchor="middle" font-weight="bold" stroke-width="0.35">10<tspan dy="-1.6" font-size="3.08">4</tspan></text>
<line x1="19.0" y1="115.0" x2="20.5" y2="115.0" stroke="#000" stroke-width="0.6"/>
<line x1="99.5" y1="180" x2="99.5" y2="181.5" stroke="#000" stroke-width="0.6"/>
<text x="59.7" y="195.7" font-size="6.2" text-anchor="middle" font-weight="bold">CD8</text>
<text x="7" y="153.5" font-size="6" text-anchor="middle" font-weight="bold" transform="rotate(-90 7 153.5)">CD4</text>
<text x="0.6" y="12.2" font-size="14.5" text-anchor="start" font-weight="bold">A</text>
<polyline points="138.0,83.4 138.8,76.0 139.6,68.2 140.4,60.0 141.2,56.0 142.0,54.5 142.8,54.3 143.6,53.3 144.4,54.4 145.2,55.1 146.0,55.8 146.8,59.6 147.6,66.0 148.4,69.1 149.2,71.0 150.0,75.4 150.8,78.0 151.6,79.0 152.4,79.6 153.2,82.4 154.0,81.5 154.8,82.3 155.6,82.7" fill="none" stroke="#000" stroke-width="1.3" stroke-dasharray="1.5 1.4"/>
<polyline points="138.0,83.2 138.8,83.1 139.6,82.6 140.4,83.2 141.2,82.3 142.0,82.7 142.8,82.8 143.6,83.2 144.4,82.7 145.2,82.4 146.0,82.5 146.8,82.5 147.6,82.5 148.4,82.4 149.2,82.3 150.0,82.0 150.8,82.7 151.6,82.5 152.4,82.2 153.2,82.5 154.0,82.8 154.8,82.3 155.6,82.5 156.4,82.0 157.2,81.9 158.0,81.9 158.8,81.7 159.6,81.6 160.4,81.9 161.2,82.1 162.0,81.4 162.8,80.2 163.6,80.2 164.4,79.1 165.2,76.5 166.0,73.7 166.8,71.0 167.6,63.7 168.4,55.9 169.2,50.9 170.0,44.0 170.8,38.6 171.6,34.9 172.4,35.2 173.2,42.2 174.0,46.7 174.8,53.0 175.6,63.1 176.4,65.4 177.2,70.0 178.0,73.2 178.8,75.3 179.6,75.7 180.4,78.2 181.2,79.0 182.0,80.3 182.8,80.5 183.6,81.8 184.4,81.4 185.2,81.5 186.0,82.4 186.8,82.1 187.6,82.9 188.4,82.3 189.2,82.7 190.0,82.8 190.8,83.2 191.6,82.9 192.4,82.9 193.2,83.2 194.0,82.8 194.8,82.7 195.6,83.1 196.4,83.2 197.2,82.9 198.0,82.7 198.8,83.1 199.6,83.2 200.4,83.1 201.2,83.3 202.0,83.1 202.8,83.3 203.6,83.3 204.4,82.9 205.2,83.1 206.0,83.3 206.8,83.3 207.6,83.0" fill="none" stroke="#000" stroke-width="1.2"/>
<polyline points="138.0,83.2 138.8,82.9 139.6,82.9 140.4,82.7 141.2,82.7 142.0,83.0 142.8,83.0 143.6,82.6 144.4,82.6 145.2,82.2 146.0,82.5 146.8,82.7 147.6,82.1 148.4,81.2 149.2,82.3 150.0,81.7 150.8,81.0 151.6,80.2 152.4,80.5 153.2,79.5 154.0,80.3 154.8,79.8 155.6,80.0 156.4,80.6 157.2,79.3 158.0,80.6 158.8,78.1 159.6,77.7 160.4,78.1 161.2,79.1 162.0,78.3 162.8,77.3 163.6,76.0 164.4,74.4 165.2,71.8 166.0,67.7 166.8,63.3 167.6,63.3 168.4,59.2 169.2,60.7 170.0,61.6 170.8,61.8 171.6,63.0 172.4,62.5 173.2,64.1 174.0,66.1 174.8,66.3 175.6,69.3 176.4,69.9 177.2,69.2 178.0,69.2 178.8,69.9 179.6,70.7 180.4,72.1 181.2,76.7 182.0,76.4 182.8,77.5 183.6,78.0 184.4,78.6 185.2,80.1 186.0,80.8 186.8,81.5 187.6,81.0 188.4,81.2 189.2,81.9 190.0,81.6 190.8,81.9 191.6,82.4 192.4,82.5 193.2,82.6 194.0,82.5 194.8,83.2 195.6,83.2 196.4,82.9 197.2,82.8 198.0,82.7 198.8,83.4 199.6,82.6 200.4,83.3 201.2,82.9 202.0,82.9 202.8,83.3 203.6,83.0 204.4,83.1 205.2,83.1 206.0,83.1 206.8,83.3 207.6,83.3" fill="none" stroke="#000" stroke-width="2.0" stroke-linejoin="round"/>
<rect x="137.50" y="20.50" width="72.00" height="63.00" fill="none" stroke="#000" stroke-width="1.1"/>
<line x1="137.0" y1="83.7" x2="210.0" y2="83.7" stroke="#000" stroke-width="1.8"/>
<line x1="137.3" y1="20.5" x2="137.3" y2="83.5" stroke="#000" stroke-width="1.5"/>
<text x="174.7" y="17.7" font-size="7.6" text-anchor="middle" font-weight="normal" stroke-width="0.3">α<tspan dy="1.6" font-size="5">4</tspan></text>
<text x="131.9" y="85.2" font-size="4.5" text-anchor="end" font-weight="bold" stroke-width="0.4">0</text>
<line x1="134.1" y1="83.5" x2="137.5" y2="83.5" stroke="#000" stroke-width="0.9"/>
<text x="131.9" y="72.60000000000001" font-size="4.5" text-anchor="end" font-weight="bold" stroke-width="0.4">10</text>
<line x1="134.1" y1="70.9" x2="137.5" y2="70.9" stroke="#000" stroke-width="0.9"/>
<text x="131.9" y="60.0" font-size="4.5" text-anchor="end" font-weight="bold" stroke-width="0.4">20</text>
<line x1="134.1" y1="58.3" x2="137.5" y2="58.3" stroke="#000" stroke-width="0.9"/>
<text x="131.9" y="47.400000000000006" font-size="4.5" text-anchor="end" font-weight="bold" stroke-width="0.4">30</text>
<line x1="134.1" y1="45.7" x2="137.5" y2="45.7" stroke="#000" stroke-width="0.9"/>
<text x="131.9" y="34.800000000000004" font-size="4.5" text-anchor="end" font-weight="bold" stroke-width="0.4">40</text>
<line x1="134.1" y1="33.1" x2="137.5" y2="33.1" stroke="#000" stroke-width="0.9"/>
<text x="131.9" y="22.2" font-size="4.5" text-anchor="end" font-weight="bold" stroke-width="0.4">50</text>
<line x1="134.1" y1="20.5" x2="137.5" y2="20.5" stroke="#000" stroke-width="0.9"/>
<line x1="135.9" y1="80.98" x2="137.5" y2="80.98" stroke="#000" stroke-width="0.55"/>
<line x1="135.9" y1="78.46" x2="137.5" y2="78.46" stroke="#000" stroke-width="0.55"/>
<line x1="135.9" y1="75.94" x2="137.5" y2="75.94" stroke="#000" stroke-width="0.55"/>
<line x1="135.9" y1="73.42" x2="137.5" y2="73.42" stroke="#000" stroke-width="0.55"/>
<line x1="135.9" y1="70.9" x2="137.5" y2="70.9" stroke="#000" stroke-width="0.55"/>
<line x1="135.9" y1="68.38" x2="137.5" y2="68.38" stroke="#000" stroke-width="0.55"/>
<line x1="135.9" y1="65.86" x2="137.5" y2="65.86" stroke="#000" stroke-width="0.55"/>
<line x1="135.9" y1="63.34" x2="137.5" y2="63.34" stroke="#000" stroke-width="0.55"/>
<line x1="135.9" y1="60.82" x2="137.5" y2="60.82" stroke="#000" stroke-width="0.55"/>
<line x1="135.9" y1="58.3" x2="137.5" y2="58.3" stroke="#000" stroke-width="0.55"/>
<line x1="135.9" y1="55.78" x2="137.5" y2="55.78" stroke="#000" stroke-width="0.55"/>
<line x1="135.9" y1="53.26" x2="137.5" y2="53.26" stroke="#000" stroke-width="0.55"/>
<line x1="135.9" y1="50.74" x2="137.5" y2="50.74" stroke="#000" stroke-width="0.55"/>
<line x1="135.9" y1="48.22" x2="137.5" y2="48.22" stroke="#000" stroke-width="0.55"/>
<line x1="135.9" y1="45.7" x2="137.5" y2="45.7" stroke="#000" stroke-width="0.55"/>
<line x1="135.9" y1="43.18" x2="137.5" y2="43.18" stroke="#000" stroke-width="0.55"/>
<line x1="135.9" y1="40.66" x2="137.5" y2="40.66" stroke="#000" stroke-width="0.55"/>
<line x1="135.9" y1="38.14" x2="137.5" y2="38.14" stroke="#000" stroke-width="0.55"/>
<line x1="135.9" y1="35.62" x2="137.5" y2="35.62" stroke="#000" stroke-width="0.55"/>
<line x1="135.9" y1="33.1" x2="137.5" y2="33.1" stroke="#000" stroke-width="0.55"/>
<line x1="135.9" y1="30.58" x2="137.5" y2="30.58" stroke="#000" stroke-width="0.55"/>
<line x1="135.9" y1="28.060000000000002" x2="137.5" y2="28.060000000000002" stroke="#000" stroke-width="0.55"/>
<line x1="135.9" y1="25.54" x2="137.5" y2="25.54" stroke="#000" stroke-width="0.55"/>
<line x1="135.9" y1="23.019999999999996" x2="137.5" y2="23.019999999999996" stroke="#000" stroke-width="0.55"/>
<text x="138.2" y="92.1" font-size="4.4" text-anchor="middle" font-weight="bold" stroke-width="0.35">10<tspan dy="-1.6" font-size="3.08">0</tspan></text>
<text x="155.825" y="92.1" font-size="4.4" text-anchor="middle" font-weight="bold" stroke-width="0.35">10<tspan dy="-1.6" font-size="3.08">1</tspan></text>
<text x="173.45" y="92.1" font-size="4.4" text-anchor="middle" font-weight="bold" stroke-width="0.35">10<tspan dy="-1.6" font-size="3.08">2</tspan></text>
<text x="191.075" y="92.1" font-size="4.4" text-anchor="middle" font-weight="bold" stroke-width="0.35">10<tspan dy="-1.6" font-size="3.08">3</tspan></text>
<text x="208.7" y="92.1" font-size="4.4" text-anchor="middle" font-weight="bold" stroke-width="0.35">10<tspan dy="-1.6" font-size="3.08">4</tspan></text>
<line x1="137.5" y1="83.5" x2="137.5" y2="86.1" stroke="#000" stroke-width="0.5"/>
<line x1="142.8" y1="83.5" x2="142.8" y2="85.3" stroke="#000" stroke-width="0.5"/>
<line x1="145.9" y1="83.5" x2="145.9" y2="85.3" stroke="#000" stroke-width="0.5"/>
<line x1="148.1" y1="83.5" x2="148.1" y2="85.3" stroke="#000" stroke-width="0.5"/>
<line x1="149.8" y1="83.5" x2="149.8" y2="85.3" stroke="#000" stroke-width="0.5"/>
<line x1="151.2" y1="83.5" x2="151.2" y2="85.3" stroke="#000" stroke-width="0.5"/>
<line x1="152.4" y1="83.5" x2="152.4" y2="85.3" stroke="#000" stroke-width="0.5"/>
<line x1="153.4" y1="83.5" x2="153.4" y2="85.3" stroke="#000" stroke-width="0.5"/>
<line x1="154.3" y1="83.5" x2="154.3" y2="85.3" stroke="#000" stroke-width="0.5"/>
<line x1="155.1" y1="83.5" x2="155.1" y2="86.1" stroke="#000" stroke-width="0.5"/>
<line x1="160.4" y1="83.5" x2="160.4" y2="85.3" stroke="#000" stroke-width="0.5"/>
<line x1="163.5" y1="83.5" x2="163.5" y2="85.3" stroke="#000" stroke-width="0.5"/>
<line x1="165.7" y1="83.5" x2="165.7" y2="85.3" stroke="#000" stroke-width="0.5"/>
<line x1="167.4" y1="83.5" x2="167.4" y2="85.3" stroke="#000" stroke-width="0.5"/>
<line x1="168.8" y1="83.5" x2="168.8" y2="85.3" stroke="#000" stroke-width="0.5"/>
<line x1="170.0" y1="83.5" x2="170.0" y2="85.3" stroke="#000" stroke-width="0.5"/>
<line x1="171.0" y1="83.5" x2="171.0" y2="85.3" stroke="#000" stroke-width="0.5"/>
<line x1="171.9" y1="83.5" x2="171.9" y2="85.3" stroke="#000" stroke-width="0.5"/>
<line x1="172.8" y1="83.5" x2="172.8" y2="86.1" stroke="#000" stroke-width="0.5"/>
<line x1="178.1" y1="83.5" x2="178.1" y2="85.3" stroke="#000" stroke-width="0.5"/>
<line x1="181.2" y1="83.5" x2="181.2" y2="85.3" stroke="#000" stroke-width="0.5"/>
<line x1="183.4" y1="83.5" x2="183.4" y2="85.3" stroke="#000" stroke-width="0.5"/>
<line x1="185.1" y1="83.5" x2="185.1" y2="85.3" stroke="#000" stroke-width="0.5"/>
<line x1="186.5" y1="83.5" x2="186.5" y2="85.3" stroke="#000" stroke-width="0.5"/>
<line x1="187.6" y1="83.5" x2="187.6" y2="85.3" stroke="#000" stroke-width="0.5"/>
<line x1="188.7" y1="83.5" x2="188.7" y2="85.3" stroke="#000" stroke-width="0.5"/>
<line x1="189.6" y1="83.5" x2="189.6" y2="85.3" stroke="#000" stroke-width="0.5"/>
<line x1="190.4" y1="83.5" x2="190.4" y2="86.1" stroke="#000" stroke-width="0.5"/>
<line x1="195.7" y1="83.5" x2="195.7" y2="85.3" stroke="#000" stroke-width="0.5"/>
<line x1="198.8" y1="83.5" x2="198.8" y2="85.3" stroke="#000" stroke-width="0.5"/>
<line x1="201.0" y1="83.5" x2="201.0" y2="85.3" stroke="#000" stroke-width="0.5"/>
<line x1="202.7" y1="83.5" x2="202.7" y2="85.3" stroke="#000" stroke-width="0.5"/>
<line x1="204.1" y1="83.5" x2="204.1" y2="85.3" stroke="#000" stroke-width="0.5"/>
<line x1="205.3" y1="83.5" x2="205.3" y2="85.3" stroke="#000" stroke-width="0.5"/>
<line x1="206.3" y1="83.5" x2="206.3" y2="85.3" stroke="#000" stroke-width="0.5"/>
<line x1="207.2" y1="83.5" x2="207.2" y2="85.3" stroke="#000" stroke-width="0.5"/>
<line x1="209.5" y1="83.5" x2="209.5" y2="86.1" stroke="#000" stroke-width="0.5"/>
<text x="122.7" y="54.0" font-size="6" text-anchor="middle" font-weight="bold" transform="rotate(-90 122.7 54.0)">Cell number</text>
<polyline points="229.0,66.8 229.8,64.7 230.6,65.0 231.4,64.2 232.2,62.1 233.0,59.6 233.8,59.9 234.6,57.1 235.4,55.8 236.2,58.0 237.0,55.3 237.8,55.6 238.6,54.1 239.4,59.1 240.2,56.4 241.0,61.8 241.8,64.9 242.6,69.1 243.4,74.0 244.2,75.1 245.0,76.9 245.8,79.4 246.6,80.8 247.4,81.9 248.2,82.5 249.0,82.3" fill="none" stroke="#000" stroke-width="1.3" stroke-dasharray="1.5 1.4"/>
<polyline points="229.0,83.1 229.8,83.1 230.6,83.2 231.4,83.2 232.2,83.0 233.0,83.3 233.8,82.9 234.6,83.0 235.4,82.9 236.2,82.9 237.0,82.8 237.8,83.0 238.6,82.9 239.4,82.9 240.2,82.9 241.0,83.0 241.8,83.2 242.6,82.8 243.4,82.6 244.2,82.9 245.0,82.7 245.8,83.0 246.6,83.2 247.4,82.5 248.2,82.9 249.0,83.1 249.8,82.8 250.6,83.0 251.4,82.6 252.2,82.6 253.0,82.8 253.8,82.6 254.6,83.0 255.4,82.4 256.2,82.6 257.0,82.8 257.8,82.5 258.6,82.4 259.4,82.1 260.2,81.8 261.0,81.7 261.8,81.7 262.6,80.9 263.4,79.9 264.2,78.3 265.0,77.0 265.8,71.4 266.6,67.1 267.4,61.5 268.2,51.7 269.0,41.6 269.8,30.5 270.6,25.6 271.4,30.8 272.2,37.5 273.0,47.3 273.8,56.7 274.6,60.8 275.4,68.7 276.2,73.4 277.0,74.5 277.8,77.4 278.6,77.3 279.4,79.1 280.2,80.2 281.0,80.8 281.8,81.4 282.6,81.4 283.4,81.8 284.2,82.2 285.0,82.7 285.8,82.6 286.6,82.6 287.4,82.8 288.2,82.9 289.0,83.1 289.8,82.5 290.6,82.9 291.4,83.0 292.2,83.0 293.0,83.1 293.8,83.2 294.6,82.7 295.4,83.3 296.2,83.2 297.0,83.4 297.8,83.3" fill="none" stroke="#000" stroke-width="1.2"/>
<polyline points="229.0,83.1 229.8,83.2 230.6,82.8 231.4,82.9 232.2,83.2 233.0,83.2 233.8,82.7 234.6,83.1 235.4,83.1 236.2,82.8 237.0,82.8 237.8,83.0 238.6,83.0 239.4,83.0 240.2,83.0 241.0,83.1 241.8,82.8 242.6,82.9 243.4,82.9 244.2,83.0 245.0,83.1 245.8,82.7 246.6,82.8 247.4,83.0 248.2,82.9 249.0,83.3 249.8,82.9 250.6,82.6 251.4,82.7 252.2,82.8 253.0,82.8 253.8,82.8 254.6,82.7 255.4,82.6 256.2,82.9 257.0,82.8 257.8,82.5 258.6,82.2 259.4,81.7 260.2,81.5 261.0,81.3 261.8,81.6 262.6,79.8 263.4,80.1 264.2,78.5 265.0,77.1 265.8,76.2 266.6,72.9 267.4,71.1 268.2,71.3 269.0,68.8 269.8,64.9 270.6,62.7 271.4,57.3 272.2,57.0 273.0,53.7 273.8,58.0 274.6,56.3 275.4,54.4 276.2,53.8 277.0,53.1 277.8,47.7 278.6,49.1 279.4,48.7 280.2,50.7 281.0,53.2 281.8,57.1 282.6,58.0 283.4,60.7 284.2,68.7 285.0,69.6 285.8,73.1 286.6,77.0 287.4,79.0 288.2,79.2 289.0,80.2 289.8,80.7 290.6,81.4 291.4,82.1 292.2,81.9 293.0,82.3 293.8,82.1 294.6,82.3 295.4,82.7 296.2,82.7 297.0,83.0 297.8,83.1" fill="none" stroke="#000" stroke-width="2.0" stroke-linejoin="round"/>
<rect x="228.50" y="20.50" width="71.00" height="63.00" fill="none" stroke="#000" stroke-width="1.1"/>
<line x1="228.0" y1="83.7" x2="300.0" y2="83.7" stroke="#000" stroke-width="1.8"/>
<line x1="228.3" y1="20.5" x2="228.3" y2="83.5" stroke="#000" stroke-width="1.5"/>
<text x="265.2" y="17.7" font-size="7.6" text-anchor="middle" font-weight="normal" stroke-width="0.3">α<tspan dy="1.6" font-size="5">L</tspan></text>
<text x="222.9" y="85.2" font-size="4.5" text-anchor="end" font-weight="bold" stroke-width="0.4">0</text>
<line x1="225.1" y1="83.5" x2="228.5" y2="83.5" stroke="#000" stroke-width="0.9"/>
<text x="222.9" y="72.60000000000001" font-size="4.5" text-anchor="end" font-weight="bold" stroke-width="0.4">10</text>
<line x1="225.1" y1="70.9" x2="228.5" y2="70.9" stroke="#000" stroke-width="0.9"/>
<text x="222.9" y="60.0" font-size="4.5" text-anchor="end" font-weight="bold" stroke-width="0.4">20</text>
<line x1="225.1" y1="58.3" x2="228.5" y2="58.3" stroke="#000" stroke-width="0.9"/>
<text x="222.9" y="47.400000000000006" font-size="4.5" text-anchor="end" font-weight="bold" stroke-width="0.4">30</text>
<line x1="225.1" y1="45.7" x2="228.5" y2="45.7" stroke="#000" stroke-width="0.9"/>
<text x="222.9" y="34.800000000000004" font-size="4.5" text-anchor="end" font-weight="bold" stroke-width="0.4">40</text>
<line x1="225.1" y1="33.1" x2="228.5" y2="33.1" stroke="#000" stroke-width="0.9"/>
<text x="222.9" y="22.2" font-size="4.5" text-anchor="end" font-weight="bold" stroke-width="0.4">50</text>
<line x1="225.1" y1="20.5" x2="228.5" y2="20.5" stroke="#000" stroke-width="0.9"/>
<line x1="226.9" y1="80.98" x2="228.5" y2="80.98" stroke="#000" stroke-width="0.55"/>
<line x1="226.9" y1="78.46" x2="228.5" y2="78.46" stroke="#000" stroke-width="0.55"/>
<line x1="226.9" y1="75.94" x2="228.5" y2="75.94" stroke="#000" stroke-width="0.55"/>
<line x1="226.9" y1="73.42" x2="228.5" y2="73.42" stroke="#000" stroke-width="0.55"/>
<line x1="226.9" y1="70.9" x2="228.5" y2="70.9" stroke="#000" stroke-width="0.55"/>
<line x1="226.9" y1="68.38" x2="228.5" y2="68.38" stroke="#000" stroke-width="0.55"/>
<line x1="226.9" y1="65.86" x2="228.5" y2="65.86" stroke="#000" stroke-width="0.55"/>
<line x1="226.9" y1="63.34" x2="228.5" y2="63.34" stroke="#000" stroke-width="0.55"/>
<line x1="226.9" y1="60.82" x2="228.5" y2="60.82" stroke="#000" stroke-width="0.55"/>
<line x1="226.9" y1="58.3" x2="228.5" y2="58.3" stroke="#000" stroke-width="0.55"/>
<line x1="226.9" y1="55.78" x2="228.5" y2="55.78" stroke="#000" stroke-width="0.55"/>
<line x1="226.9" y1="53.26" x2="228.5" y2="53.26" stroke="#000" stroke-width="0.55"/>
<line x1="226.9" y1="50.74" x2="228.5" y2="50.74" stroke="#000" stroke-width="0.55"/>
<line x1="226.9" y1="48.22" x2="228.5" y2="48.22" stroke="#000" stroke-width="0.55"/>
<line x1="226.9" y1="45.7" x2="228.5" y2="45.7" stroke="#000" stroke-width="0.55"/>
<line x1="226.9" y1="43.18" x2="228.5" y2="43.18" stroke="#000" stroke-width="0.55"/>
<line x1="226.9" y1="40.66" x2="228.5" y2="40.66" stroke="#000" stroke-width="0.55"/>
<line x1="226.9" y1="38.14" x2="228.5" y2="38.14" stroke="#000" stroke-width="0.55"/>
<line x1="226.9" y1="35.62" x2="228.5" y2="35.62" stroke="#000" stroke-width="0.55"/>
<line x1="226.9" y1="33.1" x2="228.5" y2="33.1" stroke="#000" stroke-width="0.55"/>
<line x1="226.9" y1="30.58" x2="228.5" y2="30.58" stroke="#000" stroke-width="0.55"/>
<line x1="226.9" y1="28.060000000000002" x2="228.5" y2="28.060000000000002" stroke="#000" stroke-width="0.55"/>
<line x1="226.9" y1="25.54" x2="228.5" y2="25.54" stroke="#000" stroke-width="0.55"/>
<line x1="226.9" y1="23.019999999999996" x2="228.5" y2="23.019999999999996" stroke="#000" stroke-width="0.55"/>
<text x="229.2" y="92.1" font-size="4.4" text-anchor="middle" font-weight="bold" stroke-width="0.35">10<tspan dy="-1.6" font-size="3.08">0</tspan></text>
<text x="246.575" y="92.1" font-size="4.4" text-anchor="middle" font-weight="bold" stroke-width="0.35">10<tspan dy="-1.6" font-size="3.08">1</tspan></text>
<text x="263.95" y="92.1" font-size="4.4" text-anchor="middle" font-weight="bold" stroke-width="0.35">10<tspan dy="-1.6" font-size="3.08">2</tspan></text>
<text x="281.325" y="92.1" font-size="4.4" text-anchor="middle" font-weight="bold" stroke-width="0.35">10<tspan dy="-1.6" font-size="3.08">3</tspan></text>
<text x="298.7" y="92.1" font-size="4.4" text-anchor="middle" font-weight="bold" stroke-width="0.35">10<tspan dy="-1.6" font-size="3.08">4</tspan></text>
<line x1="228.5" y1="83.5" x2="228.5" y2="86.1" stroke="#000" stroke-width="0.5"/>
<line x1="233.7" y1="83.5" x2="233.7" y2="85.3" stroke="#000" stroke-width="0.5"/>
<line x1="236.8" y1="83.5" x2="236.8" y2="85.3" stroke="#000" stroke-width="0.5"/>
<line x1="239.0" y1="83.5" x2="239.0" y2="85.3" stroke="#000" stroke-width="0.5"/>
<line x1="240.6" y1="83.5" x2="240.6" y2="85.3" stroke="#000" stroke-width="0.5"/>
<line x1="242.0" y1="83.5" x2="242.0" y2="85.3" stroke="#000" stroke-width="0.5"/>
<line x1="243.2" y1="83.5" x2="243.2" y2="85.3" stroke="#000" stroke-width="0.5"/>
<line x1="244.2" y1="83.5" x2="244.2" y2="85.3" stroke="#000" stroke-width="0.5"/>
<line x1="245.1" y1="83.5" x2="245.1" y2="85.3" stroke="#000" stroke-width="0.5"/>
<line x1="245.9" y1="83.5" x2="245.9" y2="86.1" stroke="#000" stroke-width="0.5"/>
<line x1="251.1" y1="83.5" x2="251.1" y2="85.3" stroke="#000" stroke-width="0.5"/>
<line x1="254.2" y1="83.5" x2="254.2" y2="85.3" stroke="#000" stroke-width="0.5"/>
<line x1="256.3" y1="83.5" x2="256.3" y2="85.3" stroke="#000" stroke-width="0.5"/>
<line x1="258.0" y1="83.5" x2="258.0" y2="85.3" stroke="#000" stroke-width="0.5"/>
<line x1="259.4" y1="83.5" x2="259.4" y2="85.3" stroke="#000" stroke-width="0.5"/>
<line x1="260.6" y1="83.5" x2="260.6" y2="85.3" stroke="#000" stroke-width="0.5"/>
<line x1="261.6" y1="83.5" x2="261.6" y2="85.3" stroke="#000" stroke-width="0.5"/>
<line x1="262.5" y1="83.5" x2="262.5" y2="85.3" stroke="#000" stroke-width="0.5"/>
<line x1="263.2" y1="83.5" x2="263.2" y2="86.1" stroke="#000" stroke-width="0.5"/>
<line x1="268.5" y1="83.5" x2="268.5" y2="85.3" stroke="#000" stroke-width="0.5"/>
<line x1="271.5" y1="83.5" x2="271.5" y2="85.3" stroke="#000" stroke-width="0.5"/>
<line x1="273.7" y1="83.5" x2="273.7" y2="85.3" stroke="#000" stroke-width="0.5"/>
<line x1="275.4" y1="83.5" x2="275.4" y2="85.3" stroke="#000" stroke-width="0.5"/>
<line x1="276.8" y1="83.5" x2="276.8" y2="85.3" stroke="#000" stroke-width="0.5"/>
<line x1="277.9" y1="83.5" x2="277.9" y2="85.3" stroke="#000" stroke-width="0.5"/>
<line x1="278.9" y1="83.5" x2="278.9" y2="85.3" stroke="#000" stroke-width="0.5"/>
<line x1="279.8" y1="83.5" x2="279.8" y2="85.3" stroke="#000" stroke-width="0.5"/>
<line x1="280.6" y1="83.5" x2="280.6" y2="86.1" stroke="#000" stroke-width="0.5"/>
<line x1="285.9" y1="83.5" x2="285.9" y2="85.3" stroke="#000" stroke-width="0.5"/>
<line x1="288.9" y1="83.5" x2="288.9" y2="85.3" stroke="#000" stroke-width="0.5"/>
<line x1="291.1" y1="83.5" x2="291.1" y2="85.3" stroke="#000" stroke-width="0.5"/>
<line x1="292.8" y1="83.5" x2="292.8" y2="85.3" stroke="#000" stroke-width="0.5"/>
<line x1="294.1" y1="83.5" x2="294.1" y2="85.3" stroke="#000" stroke-width="0.5"/>
<line x1="295.3" y1="83.5" x2="295.3" y2="85.3" stroke="#000" stroke-width="0.5"/>
<line x1="296.3" y1="83.5" x2="296.3" y2="85.3" stroke="#000" stroke-width="0.5"/>
<line x1="297.2" y1="83.5" x2="297.2" y2="85.3" stroke="#000" stroke-width="0.5"/>
<line x1="299.5" y1="83.5" x2="299.5" y2="86.1" stroke="#000" stroke-width="0.5"/>
<polyline points="138.0,134.6 138.8,145.2 139.6,142.2 140.4,140.5 141.2,139.9 142.0,142.0 142.8,137.7 143.6,139.1 144.4,139.2 145.2,143.8 146.0,146.0 146.8,145.0 147.6,150.4 148.4,152.6 149.2,153.5 150.0,155.3 150.8,154.9 151.6,156.1 152.4,158.4 153.2,165.4 154.0,166.3 154.8,166.4 155.6,167.8 156.4,169.1 157.2,168.6 158.0,169.1 158.8,170.1 159.6,171.2" fill="none" stroke="#000" stroke-width="0.8" stroke-dasharray="2.2 1.2"/>
<polyline points="138.0,170.8 138.8,170.5 139.6,170.5 140.4,170.3 141.2,170.4 142.0,171.2 142.8,170.9 143.6,169.9 144.4,170.1 145.2,170.0 146.0,169.9 146.8,170.3 147.6,169.9 148.4,170.5 149.2,169.9 150.0,170.1 150.8,170.5 151.6,170.6 152.4,170.2 153.2,169.4 154.0,169.4 154.8,169.4 155.6,169.3 156.4,169.1 157.2,168.2 158.0,169.0 158.8,168.7 159.6,167.7 160.4,167.5 161.2,165.5 162.0,165.0 162.8,164.2 163.6,161.8 164.4,161.6 165.2,159.2 166.0,156.7 166.8,152.7 167.6,146.2 168.4,143.3 169.2,139.1 170.0,134.6 170.8,127.5 171.6,124.1 172.4,121.2 173.2,120.3 174.0,118.6 174.8,121.4 175.6,122.9 176.4,126.4 177.2,129.1 178.0,138.4 178.8,137.9 179.6,143.0 180.4,149.4 181.2,152.2 182.0,157.9 182.8,162.9 183.6,165.4 184.4,166.9 185.2,169.3 186.0,168.5 186.8,170.3 187.6,169.9 188.4,169.9 189.2,170.4 190.0,171.0 190.8,170.1 191.6,171.4 192.4,170.2 193.2,170.6 194.0,170.5 194.8,170.5 195.6,171.1 196.4,170.9 197.2,171.5 198.0,171.4 198.8,170.7 199.6,170.2 200.4,170.8 201.2,171.1 202.0,170.7 202.8,170.8 203.6,170.7 204.4,170.7 205.2,170.9 206.0,171.1 206.8,171.6 207.6,171.3" fill="none" stroke="#000" stroke-width="1.2"/>
<polyline points="138.0,171.3 138.8,171.2 139.6,170.9 140.4,170.9 141.2,171.1 142.0,170.5 142.8,170.6 143.6,170.8 144.4,170.3 145.2,170.5 146.0,169.8 146.8,169.2 147.6,170.3 148.4,169.3 149.2,169.2 150.0,168.6 150.8,167.8 151.6,167.1 152.4,168.1 153.2,168.3 154.0,166.3 154.8,166.7 155.6,166.8 156.4,166.0 157.2,167.3 158.0,165.7 158.8,165.7 159.6,165.7 160.4,166.2 161.2,164.3 162.0,161.9 162.8,164.8 163.6,161.4 164.4,161.3 165.2,159.3 166.0,158.8 166.8,153.8 167.6,154.2 168.4,152.6 169.2,150.4 170.0,146.4 170.8,144.5 171.6,149.4 172.4,149.3 173.2,148.6 174.0,151.9 174.8,149.6 175.6,150.0 176.4,148.4 177.2,148.2 178.0,150.3 178.8,148.6 179.6,155.7 180.4,155.2 181.2,159.3 182.0,162.1 182.8,164.6 183.6,165.3 184.4,167.8 185.2,168.3 186.0,169.7 186.8,168.8 187.6,170.3 188.4,169.0 189.2,169.8 190.0,169.0 190.8,169.6 191.6,170.7 192.4,170.3 193.2,170.5 194.0,170.6 194.8,170.4 195.6,170.4 196.4,170.7 197.2,170.8 198.0,170.3 198.8,170.7 199.6,170.8 200.4,170.0 201.2,170.7 202.0,171.0 202.8,170.8 203.6,170.7 204.4,170.7 205.2,171.0 206.0,171.5 206.8,171.1 207.6,170.6" fill="none" stroke="#000" stroke-width="2.3" stroke-linejoin="round"/>
<rect x="137.50" y="109.50" width="72.00" height="62.50" fill="none" stroke="#000" stroke-width="1.1"/>
<line x1="137.0" y1="172.2" x2="210.0" y2="172.2" stroke="#000" stroke-width="1.8"/>
<line x1="137.3" y1="109.5" x2="137.3" y2="172" stroke="#000" stroke-width="1.5"/>
<text x="174.4" y="107.2" font-size="7.1" text-anchor="middle" font-weight="bold">CCL19-R</text>
<text x="131.9" y="173.7" font-size="4.5" text-anchor="end" font-weight="bold" stroke-width="0.4">0</text>
<line x1="134.1" y1="172.0" x2="137.5" y2="172.0" stroke="#000" stroke-width="0.9"/>
<text x="131.9" y="158.075" font-size="4.5" text-anchor="end" font-weight="bold" stroke-width="0.4">10</text>
<line x1="134.1" y1="156.375" x2="137.5" y2="156.375" stroke="#000" stroke-width="0.9"/>
<text x="131.9" y="142.45" font-size="4.5" text-anchor="end" font-weight="bold" stroke-width="0.4">20</text>
<line x1="134.1" y1="140.75" x2="137.5" y2="140.75" stroke="#000" stroke-width="0.9"/>
<text x="131.9" y="126.825" font-size="4.5" text-anchor="end" font-weight="bold" stroke-width="0.4">30</text>
<line x1="134.1" y1="125.125" x2="137.5" y2="125.125" stroke="#000" stroke-width="0.9"/>
<text x="131.9" y="111.2" font-size="4.5" text-anchor="end" font-weight="bold" stroke-width="0.4">40</text>
<line x1="134.1" y1="109.5" x2="137.5" y2="109.5" stroke="#000" stroke-width="0.9"/>
<line x1="135.9" y1="168.875" x2="137.5" y2="168.875" stroke="#000" stroke-width="0.55"/>
<line x1="135.9" y1="165.75" x2="137.5" y2="165.75" stroke="#000" stroke-width="0.55"/>
<line x1="135.9" y1="162.625" x2="137.5" y2="162.625" stroke="#000" stroke-width="0.55"/>
<line x1="135.9" y1="159.5" x2="137.5" y2="159.5" stroke="#000" stroke-width="0.55"/>
<line x1="135.9" y1="156.375" x2="137.5" y2="156.375" stroke="#000" stroke-width="0.55"/>
<line x1="135.9" y1="153.25" x2="137.5" y2="153.25" stroke="#000" stroke-width="0.55"/>
<line x1="135.9" y1="150.125" x2="137.5" y2="150.125" stroke="#000" stroke-width="0.55"/>
<line x1="135.9" y1="147.0" x2="137.5" y2="147.0" stroke="#000" stroke-width="0.55"/>
<line x1="135.9" y1="143.875" x2="137.5" y2="143.875" stroke="#000" stroke-width="0.55"/>
<line x1="135.9" y1="140.75" x2="137.5" y2="140.75" stroke="#000" stroke-width="0.55"/>
<line x1="135.9" y1="137.625" x2="137.5" y2="137.625" stroke="#000" stroke-width="0.55"/>
<line x1="135.9" y1="134.5" x2="137.5" y2="134.5" stroke="#000" stroke-width="0.55"/>
<line x1="135.9" y1="131.375" x2="137.5" y2="131.375" stroke="#000" stroke-width="0.55"/>
<line x1="135.9" y1="128.25" x2="137.5" y2="128.25" stroke="#000" stroke-width="0.55"/>
<line x1="135.9" y1="125.125" x2="137.5" y2="125.125" stroke="#000" stroke-width="0.55"/>
<line x1="135.9" y1="122.0" x2="137.5" y2="122.0" stroke="#000" stroke-width="0.55"/>
<line x1="135.9" y1="118.875" x2="137.5" y2="118.875" stroke="#000" stroke-width="0.55"/>
<line x1="135.9" y1="115.75" x2="137.5" y2="115.75" stroke="#000" stroke-width="0.55"/>
<line x1="135.9" y1="112.625" x2="137.5" y2="112.625" stroke="#000" stroke-width="0.55"/>
<text x="138.2" y="180.6" font-size="4.4" text-anchor="middle" font-weight="bold" stroke-width="0.35">10<tspan dy="-1.6" font-size="3.08">0</tspan></text>
<text x="155.825" y="180.6" font-size="4.4" text-anchor="middle" font-weight="bold" stroke-width="0.35">10<tspan dy="-1.6" font-size="3.08">1</tspan></text>
<text x="173.45" y="180.6" font-size="4.4" text-anchor="middle" font-weight="bold" stroke-width="0.35">10<tspan dy="-1.6" font-size="3.08">2</tspan></text>
<text x="191.075" y="180.6" font-size="4.4" text-anchor="middle" font-weight="bold" stroke-width="0.35">10<tspan dy="-1.6" font-size="3.08">3</tspan></text>
<text x="208.7" y="180.6" font-size="4.4" text-anchor="middle" font-weight="bold" stroke-width="0.35">10<tspan dy="-1.6" font-size="3.08">4</tspan></text>
<line x1="137.5" y1="172" x2="137.5" y2="174.6" stroke="#000" stroke-width="0.5"/>
<line x1="142.8" y1="172" x2="142.8" y2="173.8" stroke="#000" stroke-width="0.5"/>
<line x1="145.9" y1="172" x2="145.9" y2="173.8" stroke="#000" stroke-width="0.5"/>
<line x1="148.1" y1="172" x2="148.1" y2="173.8" stroke="#000" stroke-width="0.5"/>
<line x1="149.8" y1="172" x2="149.8" y2="173.8" stroke="#000" stroke-width="0.5"/>
<line x1="151.2" y1="172" x2="151.2" y2="173.8" stroke="#000" stroke-width="0.5"/>
<line x1="152.4" y1="172" x2="152.4" y2="173.8" stroke="#000" stroke-width="0.5"/>
<line x1="153.4" y1="172" x2="153.4" y2="173.8" stroke="#000" stroke-width="0.5"/>
<line x1="154.3" y1="172" x2="154.3" y2="173.8" stroke="#000" stroke-width="0.5"/>
<line x1="155.1" y1="172" x2="155.1" y2="174.6" stroke="#000" stroke-width="0.5"/>
<line x1="160.4" y1="172" x2="160.4" y2="173.8" stroke="#000" stroke-width="0.5"/>
<line x1="163.5" y1="172" x2="163.5" y2="173.8" stroke="#000" stroke-width="0.5"/>
<line x1="165.7" y1="172" x2="165.7" y2="173.8" stroke="#000" stroke-width="0.5"/>
<line x1="167.4" y1="172" x2="167.4" y2="173.8" stroke="#000" stroke-width="0.5"/>
<line x1="168.8" y1="172" x2="168.8" y2="173.8" stroke="#000" stroke-width="0.5"/>
<line x1="170.0" y1="172" x2="170.0" y2="173.8" stroke="#000" stroke-width="0.5"/>
<line x1="171.0" y1="172" x2="171.0" y2="173.8" stroke="#000" stroke-width="0.5"/>
<line x1="171.9" y1="172" x2="171.9" y2="173.8" stroke="#000" stroke-width="0.5"/>
<line x1="172.8" y1="172" x2="172.8" y2="174.6" stroke="#000" stroke-width="0.5"/>
<line x1="178.1" y1="172" x2="178.1" y2="173.8" stroke="#000" stroke-width="0.5"/>
<line x1="181.2" y1="172" x2="181.2" y2="173.8" stroke="#000" stroke-width="0.5"/>
<line x1="183.4" y1="172" x2="183.4" y2="173.8" stroke="#000" stroke-width="0.5"/>
<line x1="185.1" y1="172" x2="185.1" y2="173.8" stroke="#000" stroke-width="0.5"/>
<line x1="186.5" y1="172" x2="186.5" y2="173.8" stroke="#000" stroke-width="0.5"/>
<line x1="187.6" y1="172" x2="187.6" y2="173.8" stroke="#000" stroke-width="0.5"/>
<line x1="188.7" y1="172" x2="188.7" y2="173.8" stroke="#000" stroke-width="0.5"/>
<line x1="189.6" y1="172" x2="189.6" y2="173.8" stroke="#000" stroke-width="0.5"/>
<line x1="190.4" y1="172" x2="190.4" y2="174.6" stroke="#000" stroke-width="0.5"/>
<line x1="195.7" y1="172" x2="195.7" y2="173.8" stroke="#000" stroke-width="0.5"/>
<line x1="198.8" y1="172" x2="198.8" y2="173.8" stroke="#000" stroke-width="0.5"/>
<line x1="201.0" y1="172" x2="201.0" y2="173.8" stroke="#000" stroke-width="0.5"/>
<line x1="202.7" y1="172" x2="202.7" y2="173.8" stroke="#000" stroke-width="0.5"/>
<line x1="204.1" y1="172" x2="204.1" y2="173.8" stroke="#000" stroke-width="0.5"/>
<line x1="205.3" y1="172" x2="205.3" y2="173.8" stroke="#000" stroke-width="0.5"/>
<line x1="206.3" y1="172" x2="206.3" y2="173.8" stroke="#000" stroke-width="0.5"/>
<line x1="207.2" y1="172" x2="207.2" y2="173.8" stroke="#000" stroke-width="0.5"/>
<line x1="209.5" y1="172" x2="209.5" y2="174.6" stroke="#000" stroke-width="0.5"/>
<text x="122.7" y="144.95" font-size="6" text-anchor="middle" font-weight="bold" transform="rotate(-90 122.7 144.95)">Cell number</text>
<text x="173.8" y="187.6" font-size="6.2" text-anchor="middle" font-weight="bold">Mean fluorescence</text>
<polyline points="229.0,145.3 229.8,142.8 230.6,142.6 231.4,141.3 232.2,142.5 233.0,145.7 233.8,141.3 234.6,142.5 235.4,144.4 236.2,145.9 237.0,145.7 237.8,152.9 238.6,147.5 239.4,151.4 240.2,155.1 241.0,159.2 241.8,161.0 242.6,162.2 243.4,161.3 244.2,163.9 245.0,164.8 245.8,165.3 246.6,167.9 247.4,168.9 248.2,168.3 249.0,169.4 249.8,168.5 250.6,169.1 251.4,169.3 252.2,169.9 253.0,170.4 253.8,169.7 254.6,170.6 255.4,170.2" fill="none" stroke="#000" stroke-width="0.8" stroke-dasharray="2.2 1.2"/>
<polyline points="229.0,170.9 229.8,170.2 230.6,169.5 231.4,168.0 232.2,167.0 233.0,167.1 233.8,165.8 234.6,165.4 235.4,163.6 236.2,164.9 237.0,162.2 237.8,159.9 238.6,157.5 239.4,157.0 240.2,154.3 241.0,150.2 241.8,147.4 242.6,144.5 243.4,141.5 244.2,137.2 245.0,131.6 245.8,131.2 246.6,130.6 247.4,130.5 248.2,133.8 249.0,132.3 249.8,140.1 250.6,143.0 251.4,145.5 252.2,151.1 253.0,151.6 253.8,152.2 254.6,156.6 255.4,157.7 256.2,160.5 257.0,161.2 257.8,162.7 258.6,163.3 259.4,165.3 260.2,163.4 261.0,164.0 261.8,165.1 262.6,165.5 263.4,166.2 264.2,166.4 265.0,166.8 265.8,166.7 266.6,167.7 267.4,167.7 268.2,167.2 269.0,167.8 269.8,167.6 270.6,167.9 271.4,167.8 272.2,168.6 273.0,168.6 273.8,168.7 274.6,168.7 275.4,168.2 276.2,168.9 277.0,168.9 277.8,169.3 278.6,169.5 279.4,169.3 280.2,170.5 281.0,170.9 281.8,170.9 282.6,170.9 283.4,170.7 284.2,171.3 285.0,171.1 285.8,171.3 286.6,171.5 287.4,171.6 288.2,171.6 289.0,171.4 289.8,171.2 290.6,171.4 291.4,171.0 292.2,171.4 293.0,171.5 293.8,171.6 294.6,171.4 295.4,171.4 296.2,171.3 297.0,171.5 297.8,171.5" fill="none" stroke="#000" stroke-width="1.2"/>
<polyline points="229.0,170.4 229.8,169.5 230.6,170.0 231.4,169.8 232.2,169.3 233.0,168.2 233.8,166.2 234.6,165.8 235.4,164.6 236.2,163.9 237.0,163.7 237.8,161.4 238.6,162.7 239.4,160.4 240.2,159.5 241.0,158.9 241.8,157.1 242.6,155.0 243.4,153.5 244.2,151.2 245.0,153.7 245.8,152.0 246.6,149.5 247.4,150.0 248.2,148.5 249.0,151.9 249.8,148.5 250.6,150.1 251.4,150.9 252.2,150.7 253.0,152.8 253.8,154.9 254.6,153.2 255.4,153.2 256.2,149.2 257.0,158.6 257.8,156.5 258.6,159.2 259.4,158.3 260.2,161.5 261.0,164.2 261.8,163.7 262.6,163.2 263.4,163.0 264.2,163.3 265.0,163.4 265.8,165.4 266.6,165.2 267.4,165.2 268.2,165.3 269.0,165.7 269.8,165.1 270.6,164.9 271.4,166.0 272.2,165.9 273.0,166.2 273.8,165.5 274.6,165.9 275.4,166.0 276.2,166.4 277.0,166.4 277.8,168.1 278.6,167.9 279.4,168.0 280.2,167.3 281.0,169.7 281.8,169.3 282.6,170.5 283.4,169.6 284.2,170.6 285.0,170.5 285.8,170.6 286.6,170.7 287.4,170.6 288.2,170.7 289.0,170.8 289.8,171.6 290.6,171.6 291.4,171.2 292.2,171.3 293.0,171.2 293.8,171.6 294.6,171.4 295.4,171.6 296.2,171.4 297.0,171.6 297.8,171.1" fill="none" stroke="#000" stroke-width="2.3" stroke-linejoin="round"/>
<rect x="228.50" y="109.50" width="71.00" height="62.50" fill="none" stroke="#000" stroke-width="1.1"/>
<line x1="228.0" y1="172.2" x2="300.0" y2="172.2" stroke="#000" stroke-width="1.8"/>
<line x1="228.3" y1="109.5" x2="228.3" y2="172" stroke="#000" stroke-width="1.5"/>
<text x="264.9" y="107.2" font-size="7.2" text-anchor="middle" font-weight="bold">CXCL12-R</text>
<text x="222.9" y="173.7" font-size="4.5" text-anchor="end" font-weight="bold" stroke-width="0.4">0</text>
<line x1="225.1" y1="172.0" x2="228.5" y2="172.0" stroke="#000" stroke-width="0.9"/>
<text x="222.9" y="158.075" font-size="4.5" text-anchor="end" font-weight="bold" stroke-width="0.4">10</text>
<line x1="225.1" y1="156.375" x2="228.5" y2="156.375" stroke="#000" stroke-width="0.9"/>
<text x="222.9" y="142.45" font-size="4.5" text-anchor="end" font-weight="bold" stroke-width="0.4">20</text>
<line x1="225.1" y1="140.75" x2="228.5" y2="140.75" stroke="#000" stroke-width="0.9"/>
<text x="222.9" y="126.825" font-size="4.5" text-anchor="end" font-weight="bold" stroke-width="0.4">30</text>
<line x1="225.1" y1="125.125" x2="228.5" y2="125.125" stroke="#000" stroke-width="0.9"/>
<text x="222.9" y="111.2" font-size="4.5" text-anchor="end" font-weight="bold" stroke-width="0.4">40</text>
<line x1="225.1" y1="109.5" x2="228.5" y2="109.5" stroke="#000" stroke-width="0.9"/>
<line x1="226.9" y1="168.875" x2="228.5" y2="168.875" stroke="#000" stroke-width="0.55"/>
<line x1="226.9" y1="165.75" x2="228.5" y2="165.75" stroke="#000" stroke-width="0.55"/>
<line x1="226.9" y1="162.625" x2="228.5" y2="162.625" stroke="#000" stroke-width="0.55"/>
<line x1="226.9" y1="159.5" x2="228.5" y2="159.5" stroke="#000" stroke-width="0.55"/>
<line x1="226.9" y1="156.375" x2="228.5" y2="156.375" stroke="#000" stroke-width="0.55"/>
<line x1="226.9" y1="153.25" x2="228.5" y2="153.25" stroke="#000" stroke-width="0.55"/>
<line x1="226.9" y1="150.125" x2="228.5" y2="150.125" stroke="#000" stroke-width="0.55"/>
<line x1="226.9" y1="147.0" x2="228.5" y2="147.0" stroke="#000" stroke-width="0.55"/>
<line x1="226.9" y1="143.875" x2="228.5" y2="143.875" stroke="#000" stroke-width="0.55"/>
<line x1="226.9" y1="140.75" x2="228.5" y2="140.75" stroke="#000" stroke-width="0.55"/>
<line x1="226.9" y1="137.625" x2="228.5" y2="137.625" stroke="#000" stroke-width="0.55"/>
<line x1="226.9" y1="134.5" x2="228.5" y2="134.5" stroke="#000" stroke-width="0.55"/>
<line x1="226.9" y1="131.375" x2="228.5" y2="131.375" stroke="#000" stroke-width="0.55"/>
<line x1="226.9" y1="128.25" x2="228.5" y2="128.25" stroke="#000" stroke-width="0.55"/>
<line x1="226.9" y1="125.125" x2="228.5" y2="125.125" stroke="#000" stroke-width="0.55"/>
<line x1="226.9" y1="122.0" x2="228.5" y2="122.0" stroke="#000" stroke-width="0.55"/>
<line x1="226.9" y1="118.875" x2="228.5" y2="118.875" stroke="#000" stroke-width="0.55"/>
<line x1="226.9" y1="115.75" x2="228.5" y2="115.75" stroke="#000" stroke-width="0.55"/>
<line x1="226.9" y1="112.625" x2="228.5" y2="112.625" stroke="#000" stroke-width="0.55"/>
<text x="229.2" y="180.6" font-size="4.4" text-anchor="middle" font-weight="bold" stroke-width="0.35">10<tspan dy="-1.6" font-size="3.08">0</tspan></text>
<text x="246.575" y="180.6" font-size="4.4" text-anchor="middle" font-weight="bold" stroke-width="0.35">10<tspan dy="-1.6" font-size="3.08">1</tspan></text>
<text x="263.95" y="180.6" font-size="4.4" text-anchor="middle" font-weight="bold" stroke-width="0.35">10<tspan dy="-1.6" font-size="3.08">2</tspan></text>
<text x="281.325" y="180.6" font-size="4.4" text-anchor="middle" font-weight="bold" stroke-width="0.35">10<tspan dy="-1.6" font-size="3.08">3</tspan></text>
<text x="298.7" y="180.6" font-size="4.4" text-anchor="middle" font-weight="bold" stroke-width="0.35">10<tspan dy="-1.6" font-size="3.08">4</tspan></text>
<line x1="228.5" y1="172" x2="228.5" y2="174.6" stroke="#000" stroke-width="0.5"/>
<line x1="233.7" y1="172" x2="233.7" y2="173.8" stroke="#000" stroke-width="0.5"/>
<line x1="236.8" y1="172" x2="236.8" y2="173.8" stroke="#000" stroke-width="0.5"/>
<line x1="239.0" y1="172" x2="239.0" y2="173.8" stroke="#000" stroke-width="0.5"/>
<line x1="240.6" y1="172" x2="240.6" y2="173.8" stroke="#000" stroke-width="0.5"/>
<line x1="242.0" y1="172" x2="242.0" y2="173.8" stroke="#000" stroke-width="0.5"/>
<line x1="243.2" y1="172" x2="243.2" y2="173.8" stroke="#000" stroke-width="0.5"/>
<line x1="244.2" y1="172" x2="244.2" y2="173.8" stroke="#000" stroke-width="0.5"/>
<line x1="245.1" y1="172" x2="245.1" y2="173.8" stroke="#000" stroke-width="0.5"/>
<line x1="245.9" y1="172" x2="245.9" y2="174.6" stroke="#000" stroke-width="0.5"/>
<line x1="251.1" y1="172" x2="251.1" y2="173.8" stroke="#000" stroke-width="0.5"/>
<line x1="254.2" y1="172" x2="254.2" y2="173.8" stroke="#000" stroke-width="0.5"/>
<line x1="256.3" y1="172" x2="256.3" y2="173.8" stroke="#000" stroke-width="0.5"/>
<line x1="258.0" y1="172" x2="258.0" y2="173.8" stroke="#000" stroke-width="0.5"/>
<line x1="259.4" y1="172" x2="259.4" y2="173.8" stroke="#000" stroke-width="0.5"/>
<line x1="260.6" y1="172" x2="260.6" y2="173.8" stroke="#000" stroke-width="0.5"/>
<line x1="261.6" y1="172" x2="261.6" y2="173.8" stroke="#000" stroke-width="0.5"/>
<line x1="262.5" y1="172" x2="262.5" y2="173.8" stroke="#000" stroke-width="0.5"/>
<line x1="263.2" y1="172" x2="263.2" y2="174.6" stroke="#000" stroke-width="0.5"/>
<line x1="268.5" y1="172" x2="268.5" y2="173.8" stroke="#000" stroke-width="0.5"/>
<line x1="271.5" y1="172" x2="271.5" y2="173.8" stroke="#000" stroke-width="0.5"/>
<line x1="273.7" y1="172" x2="273.7" y2="173.8" stroke="#000" stroke-width="0.5"/>
<line x1="275.4" y1="172" x2="275.4" y2="173.8" stroke="#000" stroke-width="0.5"/>
<line x1="276.8" y1="172" x2="276.8" y2="173.8" stroke="#000" stroke-width="0.5"/>
<line x1="277.9" y1="172" x2="277.9" y2="173.8" stroke="#000" stroke-width="0.5"/>
<line x1="278.9" y1="172" x2="278.9" y2="173.8" stroke="#000" stroke-width="0.5"/>
<line x1="279.8" y1="172" x2="279.8" y2="173.8" stroke="#000" stroke-width="0.5"/>
<line x1="280.6" y1="172" x2="280.6" y2="174.6" stroke="#000" stroke-width="0.5"/>
<line x1="285.9" y1="172" x2="285.9" y2="173.8" stroke="#000" stroke-width="0.5"/>
<line x1="288.9" y1="172" x2="288.9" y2="173.8" stroke="#000" stroke-width="0.5"/>
<line x1="291.1" y1="172" x2="291.1" y2="173.8" stroke="#000" stroke-width="0.5"/>
<line x1="292.8" y1="172" x2="292.8" y2="173.8" stroke="#000" stroke-width="0.5"/>
<line x1="294.1" y1="172" x2="294.1" y2="173.8" stroke="#000" stroke-width="0.5"/>
<line x1="295.3" y1="172" x2="295.3" y2="173.8" stroke="#000" stroke-width="0.5"/>
<line x1="296.3" y1="172" x2="296.3" y2="173.8" stroke="#000" stroke-width="0.5"/>
<line x1="297.2" y1="172" x2="297.2" y2="173.8" stroke="#000" stroke-width="0.5"/>
<line x1="299.5" y1="172" x2="299.5" y2="174.6" stroke="#000" stroke-width="0.5"/>
<text x="264.3" y="187.6" font-size="6.2" text-anchor="middle" font-weight="bold">Mean fluorescence</text>
<text x="117" y="12" font-size="14.5" text-anchor="start" font-weight="bold">B</text>
<text x="24" y="222.7" font-size="14.5" text-anchor="start" font-weight="bold">C</text>
<line x1="67.5" y1="221.3" x2="67.5" y2="311.9" stroke="#000" stroke-width="1"/>
<line x1="67.0" y1="311.4" x2="151" y2="311.4" stroke="#000" stroke-width="1.1"/>
<line x1="65.0" y1="311.4" x2="67.5" y2="311.4" stroke="#000" stroke-width="0.8"/>
<text x="62.2" y="314.0" font-size="7.4" text-anchor="end" font-weight="bold">0</text>
<line x1="65.0" y1="300.2" x2="67.5" y2="300.2" stroke="#000" stroke-width="0.8"/>
<text x="62.2" y="302.8" font-size="7.4" text-anchor="end" font-weight="bold">2</text>
<line x1="65.0" y1="289.0" x2="67.5" y2="289.0" stroke="#000" stroke-width="0.8"/>
<text x="62.2" y="291.6" font-size="7.4" text-anchor="end" font-weight="bold">4</text>
<line x1="65.0" y1="277.8" x2="67.5" y2="277.8" stroke="#000" stroke-width="0.8"/>
<text x="62.2" y="280.40000000000003" font-size="7.4" text-anchor="end" font-weight="bold">6</text>
<line x1="65.0" y1="266.6" x2="67.5" y2="266.6" stroke="#000" stroke-width="0.8"/>
<text x="62.2" y="269.20000000000005" font-size="7.4" text-anchor="end" font-weight="bold">8</text>
<line x1="65.0" y1="255.4" x2="67.5" y2="255.4" stroke="#000" stroke-width="0.8"/>
<text x="62.2" y="258.0" font-size="7.4" text-anchor="end" font-weight="bold">10</text>
<line x1="65.0" y1="244.2" x2="67.5" y2="244.2" stroke="#000" stroke-width="0.8"/>
<text x="62.2" y="246.79999999999998" font-size="7.4" text-anchor="end" font-weight="bold">12</text>
<line x1="65.0" y1="233.0" x2="67.5" y2="233.0" stroke="#000" stroke-width="0.8"/>
<text x="62.2" y="235.6" font-size="7.4" text-anchor="end" font-weight="bold">14</text>
<line x1="65.0" y1="221.8" x2="67.5" y2="221.8" stroke="#000" stroke-width="0.8"/>
<text x="62.2" y="224.4" font-size="7.4" text-anchor="end" font-weight="bold">16</text>
<text x="46.8" y="266" font-size="7.4" text-anchor="middle" font-weight="bold" transform="rotate(-90 46.8 266)">Arrest (%)</text>
<text x="86" y="216.8" font-size="7.5" text-anchor="middle" font-weight="bold">wt</text>
<text x="135.8" y="216.8" font-size="7.5" text-anchor="middle" font-weight="bold">DOCK2-/-</text>
<line x1="108.5" y1="221" x2="108.5" y2="311.4" stroke="#000" stroke-width="1"/>
<path d="M77.25 296.28V284.52M74.45 284.52H80.05" stroke="#000" stroke-width="0.9" fill="none"/>
<rect x="72.40" y="296.28" width="9.70" height="15.12" fill="#000"/>
<line x1="77.25" y1="311.4" x2="77.25" y2="313.9" stroke="#000" stroke-width="0.8"/>
<path d="M96.60 266.04V257.08M93.80 257.08H99.40" stroke="#000" stroke-width="0.9" fill="none"/>
<rect x="92.20" y="266.04" width="8.80" height="45.36" fill="#000"/>
<line x1="96.6" y1="311.4" x2="96.6" y2="313.9" stroke="#000" stroke-width="0.8"/>
<path d="M123.35 285.64V267.16M120.55 267.16H126.15" stroke="#000" stroke-width="0.9" fill="none"/>
<rect x="118.80" y="285.64" width="9.10" height="25.76" fill="#000"/>
<line x1="123.35" y1="311.4" x2="123.35" y2="313.9" stroke="#000" stroke-width="0.8"/>
<path d="M143.30 235.80V222.92M140.50 222.92H146.10" stroke="#000" stroke-width="0.9" fill="none"/>
<rect x="138.60" y="235.80" width="9.40" height="75.60" fill="#000"/>
<line x1="143.3" y1="311.4" x2="143.3" y2="313.9" stroke="#000" stroke-width="0.8"/>
<text x="66" y="326.6" font-size="7.6" text-anchor="end" font-weight="bold">CCL21:</text>
<text x="77.3" y="326.7" font-size="7.2" text-anchor="middle" font-weight="bold">-</text>
<text x="96.6" y="327.4" font-size="7.2" text-anchor="middle" font-weight="bold">+</text>
<text x="123.4" y="326.7" font-size="7.2" text-anchor="middle" font-weight="bold">-</text>
<text x="143.2" y="327.4" font-size="7.2" text-anchor="middle" font-weight="bold">+</text>
<line x1="192.5" y1="223.5" x2="192.5" y2="280.8" stroke="#000" stroke-width="1"/>
<line x1="192.0" y1="280.3" x2="260" y2="280.3" stroke="#000" stroke-width="1.1"/>
<line x1="190.3" y1="280.3" x2="192.5" y2="280.3" stroke="#000" stroke-width="0.8"/>
<text x="187.5" y="281.6" font-size="6.3" text-anchor="end" font-weight="bold">0</text>
<line x1="190.3" y1="261.53333333333336" x2="192.5" y2="261.53333333333336" stroke="#000" stroke-width="0.8"/>
<text x="187.5" y="262.83333333333337" font-size="6.3" text-anchor="end" font-weight="bold">6</text>
<line x1="190.3" y1="242.76666666666668" x2="192.5" y2="242.76666666666668" stroke="#000" stroke-width="0.8"/>
<text x="187.5" y="244.0666666666667" font-size="6.3" text-anchor="end" font-weight="bold">12</text>
<line x1="190.3" y1="224.0" x2="192.5" y2="224.0" stroke="#000" stroke-width="0.8"/>
<text x="187.5" y="225.3" font-size="6.3" text-anchor="end" font-weight="bold">18</text>
<text x="177.2" y="252.5" font-size="6.8" text-anchor="middle" font-weight="bold" transform="rotate(-90 177.2 252.5)">Arrest (%)</text>
<text x="208" y="220.6" font-size="6.8" text-anchor="middle" font-weight="bold">wt</text>
<text x="248.5" y="220.6" font-size="6.6" text-anchor="middle" font-weight="bold">DOCK2-/-</text>
<line x1="228.5" y1="222" x2="228.5" y2="280.3" stroke="#000" stroke-width="1"/>
<path d="M200.40 254.03V249.96M197.90 249.96H202.90" stroke="#000" stroke-width="0.9" fill="none"/>
<rect x="196.30" y="254.03" width="8.20" height="26.27" fill="#000"/>
<line x1="200.4" y1="280.3" x2="200.4" y2="282.3" stroke="#000" stroke-width="0.8"/>
<path d="M216.65 278.74V276.86M214.15 276.86H219.15" stroke="#000" stroke-width="0.9" fill="none"/>
<rect x="213.30" y="278.74" width="6.70" height="1.56" fill="#000"/>
<line x1="216.65" y1="280.3" x2="216.65" y2="282.3" stroke="#000" stroke-width="0.8"/>
<path d="M240.05 237.76V230.26M237.55 230.26H242.55" stroke="#000" stroke-width="0.9" fill="none"/>
<rect x="236.30" y="237.76" width="7.50" height="42.54" fill="#000"/>
<line x1="240.05" y1="280.3" x2="240.05" y2="282.3" stroke="#000" stroke-width="0.8"/>
<path d="M255.40 277.33V277.17M252.90 277.17H257.90" stroke="#000" stroke-width="0.9" fill="none"/>
<rect x="252.00" y="277.33" width="6.80" height="2.97" fill="#000"/>
<line x1="255.4" y1="280.3" x2="255.4" y2="282.3" stroke="#000" stroke-width="0.8"/>
<text x="190.8" y="291.8" font-size="6.8" text-anchor="end" font-weight="bold">αVLA-4</text>
<text x="190.8" y="301.7" font-size="6.8" text-anchor="end" font-weight="bold">+ αLFA-1</text>
<text x="190.8" y="310.9" font-size="6.8" text-anchor="end" font-weight="bold">mAbs</text>
<text x="201.3" y="297.5" font-size="6.5" text-anchor="middle" font-weight="bold">-</text>
<text x="216.3" y="297.5" font-size="6.5" text-anchor="middle" font-weight="bold">+</text>
<text x="239.5" y="297.5" font-size="6.5" text-anchor="middle" font-weight="bold">-</text>
<text x="254.5" y="297.5" font-size="6.5" text-anchor="middle" font-weight="bold">+</text>
<text x="317" y="12.3" font-size="13.5" text-anchor="start" font-weight="bold">D</text>
<text x="423" y="27.6" font-size="7.4" text-anchor="middle" font-weight="bold">VCAM-1</text>
<line x1="346" y1="40.3" x2="346" y2="134.6" stroke="#000" stroke-width="1.3"/>
<line x1="345.5" y1="134.1" x2="415.4" y2="134.1" stroke="#000" stroke-width="1.3"/>
<line x1="343.8" y1="134.1" x2="346" y2="134.1" stroke="#000" stroke-width="0.8"/>
<text x="341.9" y="136.4" font-size="6.6" text-anchor="end" font-weight="bold">0</text>
<line x1="343.8" y1="123.73333333333332" x2="346" y2="123.73333333333332" stroke="#000" stroke-width="0.8"/>
<text x="341.9" y="126.03333333333332" font-size="6.6" text-anchor="end" font-weight="bold">5</text>
<line x1="343.8" y1="113.36666666666666" x2="346" y2="113.36666666666666" stroke="#000" stroke-width="0.8"/>
<text x="341.9" y="115.66666666666666" font-size="6.6" text-anchor="end" font-weight="bold">10</text>
<line x1="343.8" y1="103.0" x2="346" y2="103.0" stroke="#000" stroke-width="0.8"/>
<text x="341.9" y="105.3" font-size="6.6" text-anchor="end" font-weight="bold">15</text>
<line x1="343.8" y1="92.63333333333333" x2="346" y2="92.63333333333333" stroke="#000" stroke-width="0.8"/>
<text x="341.9" y="94.93333333333332" font-size="6.6" text-anchor="end" font-weight="bold">20</text>
<line x1="343.8" y1="82.26666666666667" x2="346" y2="82.26666666666667" stroke="#000" stroke-width="0.8"/>
<text x="341.9" y="84.56666666666666" font-size="6.6" text-anchor="end" font-weight="bold">25</text>
<line x1="343.8" y1="71.9" x2="346" y2="71.9" stroke="#000" stroke-width="0.8"/>
<text x="341.9" y="74.2" font-size="6.6" text-anchor="end" font-weight="bold">30</text>
<line x1="343.8" y1="61.53333333333333" x2="346" y2="61.53333333333333" stroke="#000" stroke-width="0.8"/>
<text x="341.9" y="63.83333333333333" font-size="6.6" text-anchor="end" font-weight="bold">35</text>
<line x1="343.8" y1="51.16666666666666" x2="346" y2="51.16666666666666" stroke="#000" stroke-width="0.8"/>
<text x="341.9" y="53.466666666666654" font-size="6.6" text-anchor="end" font-weight="bold">40</text>
<line x1="343.8" y1="40.8" x2="346" y2="40.8" stroke="#000" stroke-width="0.8"/>
<text x="341.9" y="43.099999999999994" font-size="6.6" text-anchor="end" font-weight="bold">45</text>
<path d="M360.85 92.63V86.41M358.25 86.41H363.45" stroke="#000" stroke-width="0.9" fill="none"/>
<rect x="355.10" y="92.63" width="11.50" height="26.12" fill="#fff" stroke="#000" stroke-width="0.8"/>
<rect x="354.70" y="118.76" width="12.30" height="15.34" fill="#000"/>
<path d="M360.85 118.76V113.78M358.45 113.78H363.25" stroke="#000" stroke-width="0.9" fill="none"/>
<line x1="360.85" y1="134.1" x2="360.85" y2="136.1" stroke="#000" stroke-width="0.8"/>
<path d="M380.30 66.30V63.19M377.70 63.19H382.90" stroke="#000" stroke-width="0.9" fill="none"/>
<rect x="374.70" y="66.30" width="11.20" height="7.67" fill="#fff" stroke="#000" stroke-width="0.8"/>
<rect x="374.30" y="73.97" width="12.00" height="60.13" fill="#000"/>
<line x1="380.3" y1="134.1" x2="380.3" y2="136.1" stroke="#000" stroke-width="0.8"/>
<path d="M402.55 90.56V86.00M399.95 86.00H405.15" stroke="#000" stroke-width="0.9" fill="none"/>
<rect x="396.70" y="90.56" width="11.70" height="18.45" fill="#fff" stroke="#000" stroke-width="0.8"/>
<rect x="396.30" y="109.01" width="12.50" height="25.09" fill="#000"/>
<path d="M402.55 109.01V106.52M400.15 106.52H404.95" stroke="#000" stroke-width="0.9" fill="none"/>
<line x1="402.55" y1="134.1" x2="402.55" y2="136.1" stroke="#000" stroke-width="0.8"/>
<text x="380.3" y="40.2" font-size="6.2" text-anchor="middle" font-weight="bold">wt</text>
<text x="331.6" y="87" font-size="7" text-anchor="middle" font-weight="bold" transform="rotate(-90 331.6 87)">Tether frequency (%)</text>
<line x1="436.9" y1="40.3" x2="436.9" y2="134.6" stroke="#000" stroke-width="1.3"/>
<line x1="436.4" y1="134.1" x2="505.5" y2="134.1" stroke="#000" stroke-width="1.3"/>
<line x1="434.7" y1="134.1" x2="436.9" y2="134.1" stroke="#000" stroke-width="0.8"/>
<text x="432.79999999999995" y="136.4" font-size="6.6" text-anchor="end" font-weight="bold">0</text>
<line x1="434.7" y1="123.73333333333332" x2="436.9" y2="123.73333333333332" stroke="#000" stroke-width="0.8"/>
<text x="432.79999999999995" y="126.03333333333332" font-size="6.6" text-anchor="end" font-weight="bold">5</text>
<line x1="434.7" y1="113.36666666666666" x2="436.9" y2="113.36666666666666" stroke="#000" stroke-width="0.8"/>
<text x="432.79999999999995" y="115.66666666666666" font-size="6.6" text-anchor="end" font-weight="bold">10</text>
<line x1="434.7" y1="103.0" x2="436.9" y2="103.0" stroke="#000" stroke-width="0.8"/>
<text x="432.79999999999995" y="105.3" font-size="6.6" text-anchor="end" font-weight="bold">15</text>
<line x1="434.7" y1="92.63333333333333" x2="436.9" y2="92.63333333333333" stroke="#000" stroke-width="0.8"/>
<text x="432.79999999999995" y="94.93333333333332" font-size="6.6" text-anchor="end" font-weight="bold">20</text>
<line x1="434.7" y1="82.26666666666667" x2="436.9" y2="82.26666666666667" stroke="#000" stroke-width="0.8"/>
<text x="432.79999999999995" y="84.56666666666666" font-size="6.6" text-anchor="end" font-weight="bold">25</text>
<line x1="434.7" y1="71.9" x2="436.9" y2="71.9" stroke="#000" stroke-width="0.8"/>
<text x="432.79999999999995" y="74.2" font-size="6.6" text-anchor="end" font-weight="bold">30</text>
<line x1="434.7" y1="61.53333333333333" x2="436.9" y2="61.53333333333333" stroke="#000" stroke-width="0.8"/>
<text x="432.79999999999995" y="63.83333333333333" font-size="6.6" text-anchor="end" font-weight="bold">35</text>
<line x1="434.7" y1="51.16666666666666" x2="436.9" y2="51.16666666666666" stroke="#000" stroke-width="0.8"/>
<text x="432.79999999999995" y="53.466666666666654" font-size="6.6" text-anchor="end" font-weight="bold">40</text>
<line x1="434.7" y1="40.8" x2="436.9" y2="40.8" stroke="#000" stroke-width="0.8"/>
<text x="432.79999999999995" y="43.099999999999994" font-size="6.6" text-anchor="end" font-weight="bold">45</text>
<path d="M449.65 90.56V81.64M447.05 81.64H452.25" stroke="#000" stroke-width="0.9" fill="none"/>
<rect x="444.20" y="90.56" width="10.90" height="31.93" fill="#fff" stroke="#000" stroke-width="0.8"/>
<rect x="443.80" y="122.49" width="11.70" height="11.61" fill="#000"/>
<path d="M449.65 122.49V115.44M447.25 115.44H452.05" stroke="#000" stroke-width="0.9" fill="none"/>
<line x1="449.65" y1="134.1" x2="449.65" y2="136.1" stroke="#000" stroke-width="0.8"/>
<rect x="466.20" y="83.93" width="10.90" height="22.60" fill="#fff" stroke="#000" stroke-width="0.8"/>
<rect x="465.80" y="106.52" width="11.70" height="27.58" fill="#000"/>
<path d="M471.65 106.52V104.04M469.25 104.04H474.05" stroke="#000" stroke-width="0.9" fill="none"/>
<line x1="471.65" y1="134.1" x2="471.65" y2="136.1" stroke="#000" stroke-width="0.8"/>
<path d="M492.75 56.14V50.13M490.15 50.13H495.35" stroke="#000" stroke-width="0.9" fill="none"/>
<rect x="486.90" y="56.14" width="11.70" height="15.96" fill="#fff" stroke="#000" stroke-width="0.8"/>
<rect x="486.50" y="72.11" width="12.50" height="61.99" fill="#000"/>
<path d="M492.75 72.11V69.83M490.35 69.83H495.15" stroke="#000" stroke-width="0.9" fill="none"/>
<line x1="492.75" y1="134.1" x2="492.75" y2="136.1" stroke="#000" stroke-width="0.8"/>
<text x="473.8" y="39.8" font-size="6.9" text-anchor="middle" font-weight="bold">DOCK2-/-</text>
<rect x="475.40" y="2.60" width="5.60" height="5.60" fill="#fff" stroke="#000" stroke-width="0.9"/>
<rect x="475.00" y="13.60" width="6.40" height="6.20" fill="#000"/>
<text x="485.8" y="7.8" font-size="6.4" text-anchor="start" font-weight="bold">Transient</text>
<text x="485.8" y="19.4" font-size="6.6" text-anchor="start" font-weight="bold">Arrest</text>
<text x="335.7" y="147.6" font-size="6.4" text-anchor="middle" font-weight="bold">Imm.</text>
<text x="335.7" y="155.4" font-size="6.3" text-anchor="middle" font-weight="bold">Chemokine</text>
<text x="360.8" y="154.2" font-size="6.3" text-anchor="middle" font-weight="bold">-</text>
<text x="380.3" y="151.2" font-size="6.3" text-anchor="middle" font-weight="bold">CCL21</text>
<text x="410.6" y="151.2" font-size="6.3" text-anchor="middle" font-weight="bold">CXCL12</text>
<text x="450.8" y="154.2" font-size="6.3" text-anchor="middle" font-weight="bold">-</text>
<text x="470.6" y="151.2" font-size="6.3" text-anchor="middle" font-weight="bold">CCL21</text>
<text x="500.8" y="151.2" font-size="6.3" text-anchor="middle" font-weight="bold">CXCL12</text>
<text x="317" y="182.3" font-size="13.5" text-anchor="start" font-weight="bold">E</text>
<text x="435.2" y="189" font-size="7.2" text-anchor="middle" font-weight="bold">ICAM-1</text>
<line x1="353" y1="201.5" x2="353" y2="295.1" stroke="#000" stroke-width="1.3"/>
<line x1="352.5" y1="294.6" x2="417" y2="294.6" stroke="#000" stroke-width="1.3"/>
<line x1="350.8" y1="294.6" x2="353" y2="294.6" stroke="#000" stroke-width="0.8"/>
<text x="348.9" y="296.90000000000003" font-size="6.6" text-anchor="end" font-weight="bold">0</text>
<line x1="350.8" y1="281.37142857142857" x2="353" y2="281.37142857142857" stroke="#000" stroke-width="0.8"/>
<text x="348.9" y="283.6714285714286" font-size="6.6" text-anchor="end" font-weight="bold">5</text>
<line x1="350.8" y1="268.14285714285717" x2="353" y2="268.14285714285717" stroke="#000" stroke-width="0.8"/>
<text x="348.9" y="270.4428571428572" font-size="6.6" text-anchor="end" font-weight="bold">10</text>
<line x1="350.8" y1="254.9142857142857" x2="353" y2="254.9142857142857" stroke="#000" stroke-width="0.8"/>
<text x="348.9" y="257.2142857142857" font-size="6.6" text-anchor="end" font-weight="bold">15</text>
<line x1="350.8" y1="241.6857142857143" x2="353" y2="241.6857142857143" stroke="#000" stroke-width="0.8"/>
<text x="348.9" y="243.98571428571432" font-size="6.6" text-anchor="end" font-weight="bold">20</text>
<line x1="350.8" y1="228.45714285714286" x2="353" y2="228.45714285714286" stroke="#000" stroke-width="0.8"/>
<text x="348.9" y="230.75714285714287" font-size="6.6" text-anchor="end" font-weight="bold">25</text>
<line x1="350.8" y1="215.22857142857143" x2="353" y2="215.22857142857143" stroke="#000" stroke-width="0.8"/>
<text x="348.9" y="217.52857142857144" font-size="6.6" text-anchor="end" font-weight="bold">30</text>
<line x1="350.8" y1="202.0" x2="353" y2="202.0" stroke="#000" stroke-width="0.8"/>
<text x="348.9" y="204.3" font-size="6.6" text-anchor="end" font-weight="bold">35</text>
<rect x="361.30" y="293.81" width="11.70" height="0.79" fill="#000"/>
<line x1="367.15" y1="294.6" x2="367.15" y2="296.6" stroke="#000" stroke-width="0.8"/>
<path d="M386.50 245.65V242.21M383.90 242.21H389.10" stroke="#000" stroke-width="0.9" fill="none"/>
<rect x="380.90" y="245.65" width="11.20" height="11.64" fill="#fff" stroke="#000" stroke-width="0.8"/>
<rect x="380.50" y="257.30" width="12.00" height="37.30" fill="#000"/>
<path d="M386.50 257.30V250.95M384.10 250.95H388.90" stroke="#000" stroke-width="0.9" fill="none"/>
<line x1="386.5" y1="294.6" x2="386.5" y2="296.6" stroke="#000" stroke-width="0.8"/>
<path d="M408.65 233.75V215.23M406.05 215.23H411.25" stroke="#000" stroke-width="0.9" fill="none"/>
<rect x="402.90" y="233.75" width="11.50" height="21.69" fill="#fff" stroke="#000" stroke-width="0.8"/>
<rect x="402.50" y="255.44" width="12.30" height="39.16" fill="#000"/>
<path d="M408.65 255.44V246.45M406.25 246.45H411.05" stroke="#000" stroke-width="0.9" fill="none"/>
<line x1="408.65" y1="294.6" x2="408.65" y2="296.6" stroke="#000" stroke-width="0.8"/>
<text x="386.6" y="201.8" font-size="6.2" text-anchor="middle" font-weight="bold">wt</text>
<text x="332.8" y="245" font-size="7" text-anchor="middle" font-weight="bold" transform="rotate(-90 332.8 245)">Tether frequency (%)</text>
<line x1="442.5" y1="201.5" x2="442.5" y2="295.1" stroke="#000" stroke-width="1.3"/>
<line x1="442.0" y1="294.6" x2="511.8" y2="294.6" stroke="#000" stroke-width="1.3"/>
<line x1="440.3" y1="294.6" x2="442.5" y2="294.6" stroke="#000" stroke-width="0.8"/>
<text x="438.4" y="296.90000000000003" font-size="6.6" text-anchor="end" font-weight="bold">0</text>
<line x1="440.3" y1="281.37142857142857" x2="442.5" y2="281.37142857142857" stroke="#000" stroke-width="0.8"/>
<text x="438.4" y="283.6714285714286" font-size="6.6" text-anchor="end" font-weight="bold">5</text>
<line x1="440.3" y1="268.14285714285717" x2="442.5" y2="268.14285714285717" stroke="#000" stroke-width="0.8"/>
<text x="438.4" y="270.4428571428572" font-size="6.6" text-anchor="end" font-weight="bold">10</text>
<line x1="440.3" y1="254.9142857142857" x2="442.5" y2="254.9142857142857" stroke="#000" stroke-width="0.8"/>
<text x="438.4" y="257.2142857142857" font-size="6.6" text-anchor="end" font-weight="bold">15</text>
<line x1="440.3" y1="241.6857142857143" x2="442.5" y2="241.6857142857143" stroke="#000" stroke-width="0.8"/>
<text x="438.4" y="243.98571428571432" font-size="6.6" text-anchor="end" font-weight="bold">20</text>
<line x1="440.3" y1="228.45714285714286" x2="442.5" y2="228.45714285714286" stroke="#000" stroke-width="0.8"/>
<text x="438.4" y="230.75714285714287" font-size="6.6" text-anchor="end" font-weight="bold">25</text>
<line x1="440.3" y1="215.22857142857143" x2="442.5" y2="215.22857142857143" stroke="#000" stroke-width="0.8"/>
<text x="438.4" y="217.52857142857144" font-size="6.6" text-anchor="end" font-weight="bold">30</text>
<line x1="440.3" y1="202.0" x2="442.5" y2="202.0" stroke="#000" stroke-width="0.8"/>
<text x="438.4" y="204.3" font-size="6.6" text-anchor="end" font-weight="bold">35</text>
<rect x="449.30" y="290.37" width="12.50" height="4.23" fill="#000"/>
<path d="M455.55 290.37V287.99M453.15 287.99H457.95" stroke="#000" stroke-width="0.9" fill="none"/>
<line x1="455.55" y1="294.6" x2="455.55" y2="296.6" stroke="#000" stroke-width="0.8"/>
<path d="M477.55 213.91V209.94M474.95 209.94H480.15" stroke="#000" stroke-width="0.9" fill="none"/>
<rect x="471.70" y="213.91" width="11.70" height="15.08" fill="#fff" stroke="#000" stroke-width="0.8"/>
<rect x="471.30" y="228.99" width="12.50" height="65.61" fill="#000"/>
<path d="M477.55 228.99V221.84M475.15 221.84H479.95" stroke="#000" stroke-width="0.9" fill="none"/>
<line x1="477.55" y1="294.6" x2="477.55" y2="296.6" stroke="#000" stroke-width="0.8"/>
<path d="M499.75 244.33V242.74M497.15 242.74H502.35" stroke="#000" stroke-width="0.9" fill="none"/>
<rect x="493.90" y="244.33" width="11.70" height="15.08" fill="#fff" stroke="#000" stroke-width="0.8"/>
<rect x="493.50" y="259.41" width="12.50" height="35.19" fill="#000"/>
<path d="M499.75 259.41V246.71M497.35 246.71H502.15" stroke="#000" stroke-width="0.9" fill="none"/>
<line x1="499.75" y1="294.6" x2="499.75" y2="296.6" stroke="#000" stroke-width="0.8"/>
<text x="478.8" y="201.4" font-size="6.8" text-anchor="middle" font-weight="bold">DOCK2-/-</text>
<text x="332.3" y="307.2" font-size="6.3" text-anchor="middle" font-weight="bold">Imm.</text>
<text x="332" y="315.2" font-size="6.45" text-anchor="middle" font-weight="bold">Chemokine</text>
<text x="367" y="311.8" font-size="6.3" text-anchor="middle" font-weight="bold">-</text>
<text x="386.3" y="311" font-size="6.3" text-anchor="middle" font-weight="bold">CCL21</text>
<text x="416.5" y="311" font-size="6.3" text-anchor="middle" font-weight="bold">CXCL12</text>
<text x="457" y="311.8" font-size="6.3" text-anchor="middle" font-weight="bold">-</text>
<text x="476.3" y="311" font-size="6.3" text-anchor="middle" font-weight="bold">CCL21</text>
<text x="506.5" y="311" font-size="6.3" text-anchor="middle" font-weight="bold">CXCL12</text>
</svg>
</body></html>
